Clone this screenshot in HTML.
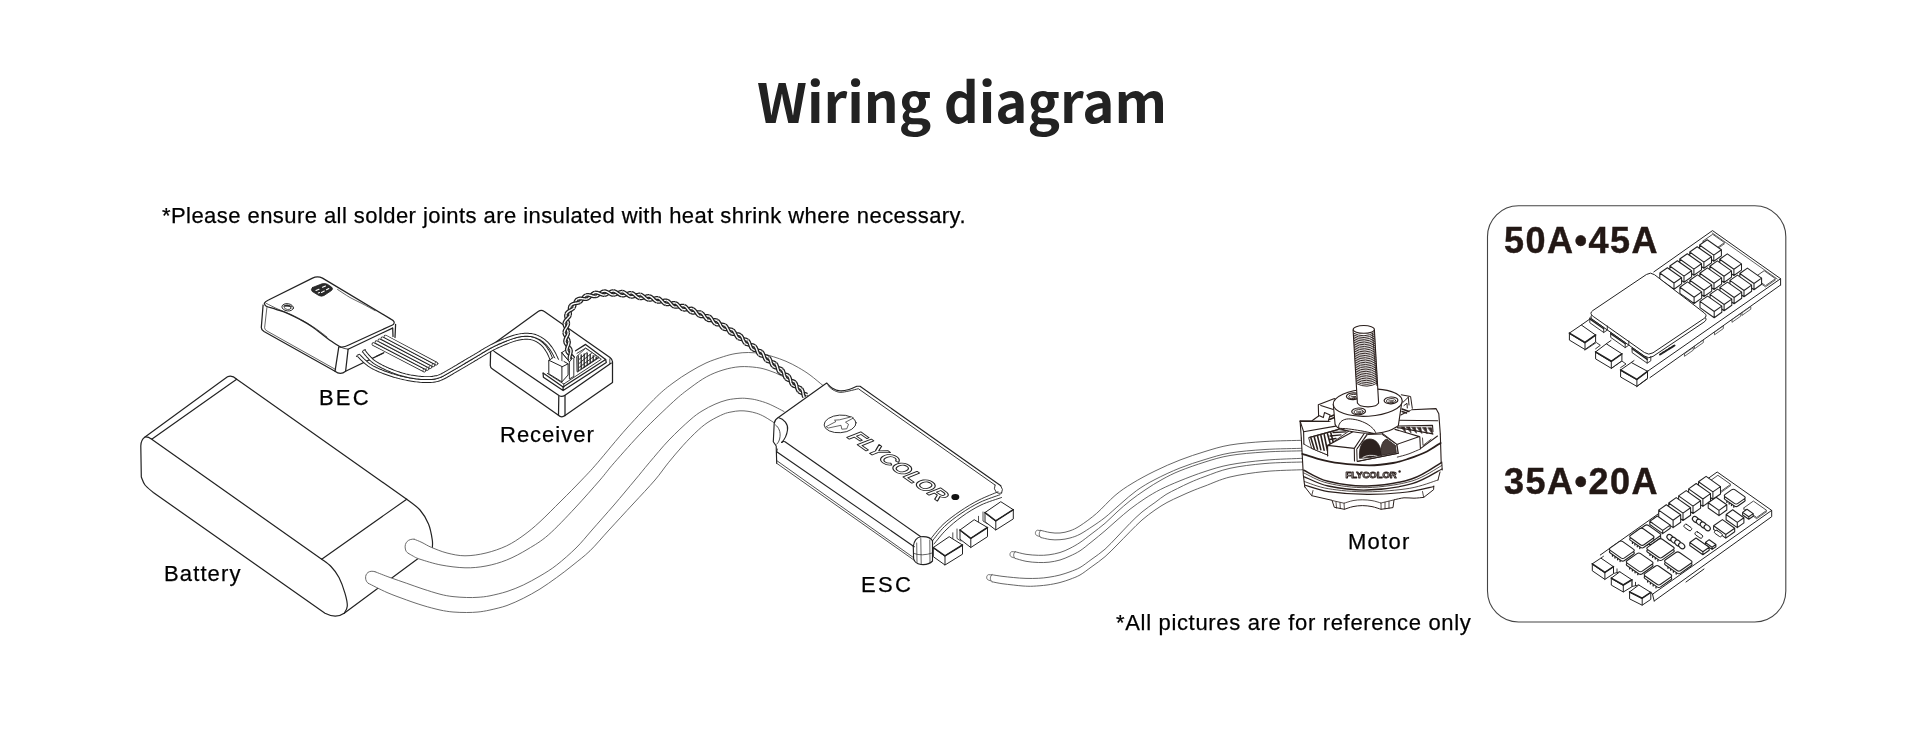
<!DOCTYPE html>
<html lang="en">
<head>
<meta charset="utf-8">
<title>Wiring diagram</title>
<style>
html,body{margin:0;padding:0;background:#fff;}
body{width:1920px;height:737px;position:relative;overflow:hidden;font-family:"Liberation Sans","Noto Sans CJK SC",sans-serif;color:#222;}
#art{position:absolute;left:0;top:0;width:1920px;height:737px;}
.t,h1,#art{will-change:transform;}
.t{position:absolute;white-space:nowrap;line-height:1;color:#000;-webkit-text-stroke:0.25px #000;}
h1{position:absolute;margin:0;left:2px;top:60px;width:1920px;text-align:center;font-family:"Noto Sans CJK SC","Liberation Sans",sans-serif;font-weight:700;font-size:54.5px;line-height:80px;color:#222;white-space:nowrap;}
.lbl{font-size:22px;}
.big{font-weight:700;font-size:36px;color:#231815;letter-spacing:1.45px;-webkit-text-stroke:0.45px #231815;}
</style>
</head>
<body>
<svg id="art" viewBox="0 0 1920 737" width="1920" height="737" fill="none" stroke="#222" stroke-width="1" stroke-linecap="round" stroke-linejoin="round">
<!--ART-->
<g id="p1_battery">
<path d="M145 437L227.5 376.7Q232 374.6 236.7 379.2L406.7 499.2L406.7 499.2C408.9 501 416.4 505.9 420 510C423.6 514.1 426.4 519 428.5 524C430.6 529 431.7 536 432.3 540C432.9 544 432.3 546.7 432.3 548L344.2 613.3Q336 619 325 613.3L153.3 492.5L153.3 492.5C151.9 491.2 147 487.6 145 485C143 482.4 141.9 478.3 141.3 477L140.8 446Q140.8 440 145 437Z" fill="#fff" stroke="#222" stroke-width="1.2"/>
<path d="M145 437Q148 436.6 151.7 439.2L236.7 379.2M151.7 439.2L321.7 559.2L406.7 499.2" stroke="#222" stroke-width="1.2"/>
<path d="M321.7 559.2C323.2 560.4 328.1 563.5 331 566.5C333.9 569.5 336.7 573 339 577.5C341.3 582 343.6 588.5 345 593.3C346.4 598 347.4 602.7 347.3 606C347.2 609.3 344.7 612.1 344.2 613.3" stroke="#222" stroke-width="1.2"/>
</g>
<g id="p2_wires">
<path d="M414.2 539.2C415.5 539.8 419.1 541.1 422 542.5C424.9 543.9 427.5 545.8 431.7 547.5C435.9 549.2 441.4 551.6 447 553C452.6 554.4 458.5 555.8 465 555.8C471.5 555.8 479.1 554.7 486 553C492.9 551.3 500.4 548.8 506.7 545.8C513 542.8 518.5 539 524 535C529.5 531 533.8 527.4 540 521.7C546.2 516 554 507.9 561 501C568 494.1 575.6 486.4 581.7 480C587.8 473.6 590 471.5 597.5 462.8C605 454.1 617.1 439 627 428C636.9 417 649 404.2 656.7 396.7C664.4 389.2 667.5 387.2 673 383C678.5 378.8 684.5 375 690 371.7C695.5 368.4 700.5 365.5 706 363C711.5 360.5 718.3 358.3 723.3 356.7C728.3 355.1 731.8 354.2 736 353.5C740.2 352.8 744.1 352.5 748.3 352.5C752.5 352.5 756.8 352.9 761 353.6C765.2 354.3 769.1 355.4 773.3 356.7C777.5 358 781.8 359.5 786 361.3C790.2 363.1 794.3 365.2 798.3 367.5C802.3 369.8 805.9 372 810 375C814.1 378 820.8 383.8 823 385.5L808 396C805.7 393.9 798.4 386.9 794 383.5C789.6 380.1 785.9 378 781.7 375.8C777.5 373.6 773.2 371.9 769 370.5C764.8 369.1 761.5 368.1 756.7 367.5C751.9 366.9 745.6 366.3 740 366.7C734.4 367.1 728.5 368.3 723 370C717.5 371.7 712.2 373.7 706.7 376.7C701.2 379.7 695.6 383.8 690 388C684.4 392.2 681.1 394.5 673.3 401.7C665.5 408.9 652.9 420.8 643 431C633.1 441.2 621.4 454.6 614.2 462.8C607 471 606.5 472.5 600 480C593.5 487.5 583.6 498.8 575 508C566.4 517.2 556.1 528.2 548.3 535C540.5 541.8 534.9 544.8 528 549C521.1 553.2 513.7 557.2 506.7 560C499.7 562.8 492.9 564.7 486 566C479.1 567.3 472.5 568 465 567.8C457.5 567.6 448.5 566.4 441 565C433.5 563.6 424.7 560.7 420 559.2C415.3 557.7 414.9 557 413 556C411.1 555 409.1 553.8 408.3 553.3Z" fill="#fff" stroke="none"/><path d="M414.2 539.2C415.5 539.8 419.1 541.1 422 542.5C424.9 543.9 427.5 545.8 431.7 547.5C435.9 549.2 441.4 551.6 447 553C452.6 554.4 458.5 555.8 465 555.8C471.5 555.8 479.1 554.7 486 553C492.9 551.3 500.4 548.8 506.7 545.8C513 542.8 518.5 539 524 535C529.5 531 533.8 527.4 540 521.7C546.2 516 554 507.9 561 501C568 494.1 575.6 486.4 581.7 480C587.8 473.6 590 471.5 597.5 462.8C605 454.1 617.1 439 627 428C636.9 417 649 404.2 656.7 396.7C664.4 389.2 667.5 387.2 673 383C678.5 378.8 684.5 375 690 371.7C695.5 368.4 700.5 365.5 706 363C711.5 360.5 718.3 358.3 723.3 356.7C728.3 355.1 731.8 354.2 736 353.5C740.2 352.8 744.1 352.5 748.3 352.5C752.5 352.5 756.8 352.9 761 353.6C765.2 354.3 769.1 355.4 773.3 356.7C777.5 358 781.8 359.5 786 361.3C790.2 363.1 794.3 365.2 798.3 367.5C802.3 369.8 805.9 372 810 375C814.1 378 820.8 383.8 823 385.5" stroke="#5a5a5a" stroke-width="0.9"/><path d="M408.3 553.3C409.1 553.8 411.1 555 413 556C414.9 557 415.3 557.7 420 559.2C424.7 560.7 433.5 563.6 441 565C448.5 566.4 457.5 567.6 465 567.8C472.5 568 479.1 567.3 486 566C492.9 564.7 499.7 562.8 506.7 560C513.7 557.2 521.1 553.2 528 549C534.9 544.8 540.5 541.8 548.3 535C556.1 528.2 566.4 517.2 575 508C583.6 498.8 593.5 487.5 600 480C606.5 472.5 607 471 614.2 462.8C621.4 454.6 633.1 441.2 643 431C652.9 420.8 665.5 408.9 673.3 401.7C681.1 394.5 684.4 392.2 690 388C695.6 383.8 701.2 379.7 706.7 376.7C712.2 373.7 717.5 371.7 723 370C728.5 368.3 734.4 367.1 740 366.7C745.6 366.3 751.9 366.9 756.7 367.5C761.5 368.1 764.8 369.1 769 370.5C773.2 371.9 777.5 373.6 781.7 375.8C785.9 378 789.6 380.1 794 383.5C798.4 386.9 805.7 393.9 808 396" stroke="#5a5a5a" stroke-width="0.9"/>
<path d="M414.2 539.2C408 538.5 404.5 543 405.2 548C405.6 551 406.5 552.3 408.3 553.3" fill="#fff" stroke="#5a5a5a" stroke-width="0.9"/>
<path d="M375 571.7C377.5 572.7 384.7 575.6 390 577.5C395.3 579.4 401.2 581.4 406.7 583.3C412.2 585.2 417.4 587.2 423 589C428.6 590.8 435 592.9 440 594.2C445 595.5 448.6 596.1 453 596.6C457.4 597.1 462.5 597.4 466.7 597.5C470.9 597.6 474.1 597.6 478 597.3C481.9 597 485.2 596.8 490 595.8C494.8 594.8 501.4 593.3 507 591.5C512.5 589.7 517.8 587.6 523.3 585C528.8 582.4 534.4 579.3 540 576C545.6 572.7 550.7 569.7 556.7 565C562.7 560.3 570.1 553.8 576 548C581.9 542.2 585.7 537.2 592 530C598.3 522.8 606.8 513.3 614 505C621.2 496.7 629.1 487 635 480C640.9 473 643.5 469.5 649.2 462.8C654.9 456.1 662.2 447.1 669 440C675.8 432.9 684.5 424.8 690 420C695.5 415.2 697.8 413.6 702 411C706.2 408.4 710.8 406 715 404.2C719.2 402.4 722.8 401 727 400C731.2 399 736.5 398.5 740 398.3C743.5 398.1 745.2 398.3 748 398.6C750.8 398.9 753.2 399.1 756.7 400C760.2 400.9 764.5 402.1 769 404C773.5 405.9 781.5 410.2 784 411.5L776 424C774.2 422.8 768.2 418.8 765 417C761.8 415.2 759.5 414.2 756.7 413.3C753.9 412.4 750.8 411.7 748 411.3C745.2 410.9 742.8 410.7 740 410.8C737.2 410.9 733.8 411.4 731 412C728.2 412.6 726.8 412.7 723.3 414.2C719.8 415.7 714.2 418.4 710 421C705.8 423.6 702.8 425.9 698.3 430C693.8 434.1 688 440 683 445.5C678 451 673 457.1 668.3 462.8C663.6 468.6 660.9 473.1 655 480C649.1 486.9 640.7 495.7 633 504C625.3 512.3 616.2 522.2 609 530C601.8 537.8 596 545 590 550.8C584 556.6 578.5 560.5 573 565C567.5 569.5 562.2 573.5 556.7 577.5C551.2 581.5 545.6 585.5 540 589C534.4 592.5 528.8 595.5 523.3 598.3C517.8 601 512.5 603.5 507 605.5C501.4 607.5 494.8 608.9 490 610C485.2 611.1 481.9 611.6 478 612C474.1 612.4 470.9 612.5 466.7 612.5C462.5 612.5 457.4 612.4 453 612C448.6 611.6 445 611.1 440 610C435 608.9 428.6 607.2 423 605.5C417.4 603.8 412.7 602.2 406.7 600C400.7 597.8 393.4 595.3 387 592.5C380.6 589.7 371.4 584.8 368.3 583.3Z" fill="#fff" stroke="none"/><path d="M375 571.7C377.5 572.7 384.7 575.6 390 577.5C395.3 579.4 401.2 581.4 406.7 583.3C412.2 585.2 417.4 587.2 423 589C428.6 590.8 435 592.9 440 594.2C445 595.5 448.6 596.1 453 596.6C457.4 597.1 462.5 597.4 466.7 597.5C470.9 597.6 474.1 597.6 478 597.3C481.9 597 485.2 596.8 490 595.8C494.8 594.8 501.4 593.3 507 591.5C512.5 589.7 517.8 587.6 523.3 585C528.8 582.4 534.4 579.3 540 576C545.6 572.7 550.7 569.7 556.7 565C562.7 560.3 570.1 553.8 576 548C581.9 542.2 585.7 537.2 592 530C598.3 522.8 606.8 513.3 614 505C621.2 496.7 629.1 487 635 480C640.9 473 643.5 469.5 649.2 462.8C654.9 456.1 662.2 447.1 669 440C675.8 432.9 684.5 424.8 690 420C695.5 415.2 697.8 413.6 702 411C706.2 408.4 710.8 406 715 404.2C719.2 402.4 722.8 401 727 400C731.2 399 736.5 398.5 740 398.3C743.5 398.1 745.2 398.3 748 398.6C750.8 398.9 753.2 399.1 756.7 400C760.2 400.9 764.5 402.1 769 404C773.5 405.9 781.5 410.2 784 411.5" stroke="#5a5a5a" stroke-width="0.9"/><path d="M368.3 583.3C371.4 584.8 380.6 589.7 387 592.5C393.4 595.3 400.7 597.8 406.7 600C412.7 602.2 417.4 603.8 423 605.5C428.6 607.2 435 608.9 440 610C445 611.1 448.6 611.6 453 612C457.4 612.4 462.5 612.5 466.7 612.5C470.9 612.5 474.1 612.4 478 612C481.9 611.6 485.2 611.1 490 610C494.8 608.9 501.4 607.5 507 605.5C512.5 603.5 517.8 601 523.3 598.3C528.8 595.5 534.4 592.5 540 589C545.6 585.5 551.2 581.5 556.7 577.5C562.2 573.5 567.5 569.5 573 565C578.5 560.5 584 556.6 590 550.8C596 545 601.8 537.8 609 530C616.2 522.2 625.3 512.3 633 504C640.7 495.7 649.1 486.9 655 480C660.9 473.1 663.6 468.6 668.3 462.8C673 457.1 678 451 683 445.5C688 440 693.8 434.1 698.3 430C702.8 425.9 705.8 423.6 710 421C714.2 418.4 719.8 415.7 723.3 414.2C726.8 412.7 728.2 412.6 731 412C733.8 411.4 737.2 410.9 740 410.8C742.8 410.7 745.2 410.9 748 411.3C750.8 411.7 753.9 412.4 756.7 413.3C759.5 414.2 761.8 415.2 765 417C768.2 418.8 774.2 422.8 776 424" stroke="#5a5a5a" stroke-width="0.9"/>
<path d="M375 571.7C369 569.8 365.3 573.5 365.6 578C365.8 580.5 366.6 582.2 368.3 583.3" fill="#fff" stroke="#5a5a5a" stroke-width="0.9"/>
</g>
<g id="p3a_bec">
<path d="M268.5 300L312.5 278.1Q317.5 275.8 322.5 278.1L391.3 319.4Q395.8 321.5 395.6 325L395 337.5L345.6 371.3Q340.5 375.5 335 371.3L264 331.5Q261 329.5 261.3 327.5L263.1 305Q263.6 301.8 268.5 300Z" fill="#fff" stroke="none"/>
<path d="M264.4 303.3Q265 301.5 268.5 300L312.5 278.1Q317.5 275.8 322.5 278.1L391.3 319.4Q395.6 321.6 393.5 324.3L392.5 325L348.8 345Q344 347.6 340 346.9" stroke="#222" stroke-width="1.25"/>
<path d="M264.4 303.3C264.7 303.8 264.4 305.3 266.3 306.3C268.2 307.3 272.5 308.1 276 309.3C279.5 310.5 283.5 311.6 287.5 313.3C291.5 315 295.8 317.2 300 319.5C304.2 321.8 307.9 323.7 312.5 326.9C317.1 330.1 322.9 335.2 327.5 338.5C332.1 341.8 337.9 345.5 340 346.9" stroke="#222" stroke-width="1.25"/>
<path d="M266.5 303.5C268.6 304.5 274.7 307.7 278.8 309.5C282.9 311.3 286.8 312.6 291 314.5C295.2 316.4 299.8 318.8 304 321.2C308.2 323.6 312.2 326.1 316 328.7C319.8 331.3 325.2 335.6 327 337" stroke="#222" stroke-width="0.7"/>
<path d="M337.5 289.4C339.6 290.8 345.9 295.1 350 297.5C354.1 299.9 357.8 301.3 362 303.5C366.2 305.7 372.8 309.4 375 310.6" stroke="#222" stroke-width="0.7"/>
<path d="M348.1 349.2L392.5 328.1" stroke="#222" stroke-width="1.25"/>
<path d="M263.1 305L261.3 327.5Q261.2 329.8 264 331.5L335 371.3" stroke="#222" stroke-width="1.25"/>
<path d="M266.9 307.5L264.6 327.8Q264.7 329.8 267 331L335.8 369.6" stroke="#222" stroke-width="0.7"/>
<path d="M338.8 346.9L335 371.3Q340.5 375.5 345.6 371.3L348.1 349.4" stroke="#222" stroke-width="1.25"/>
<path d="M340 346.9Q344 348.8 348.1 349.2" stroke="#222" stroke-width="0.8"/>
<path d="M345.6 371.3L383.8 352.8M395.6 324.4L395 337.5M392.7 328L393 336.5" stroke="#222" stroke-width="1.25"/>
<path d="M312.5 287.5L322 283.8Q325 283 327.5 284.3L331.5 287Q333.5 288.8 331.5 290.5L324 295.5Q321.5 296.8 318.8 295.5L312.3 291.5Q310.3 289.5 312.5 287.5Z" fill="#2a2a2a" stroke="#222" stroke-width="0.8"/>
<path d="M316 290.5L319 289.3M321.5 292.5L324.3 291M322.5 287.2L325.5 286M326.5 289.8L328.8 288.6M318.3 293L319.5 292.5" stroke="#fff" stroke-width="1.1"/>
<ellipse cx="287.7" cy="307.3" rx="5.8" ry="3.6" fill="#fff" stroke="#222" stroke-width="0.9" transform="rotate(8 287.7 307.3)"/>
<path d="M282.3 306.6Q287 302.2 293.2 307Q287.5 306.3 282.3 306.6Z" fill="#333" stroke="none"/>
<ellipse cx="287.7" cy="307.6" rx="3.4" ry="1.9" fill="none" stroke="#222" stroke-width="0.7" transform="rotate(8 287.7 307.3)"/>
<path d="M371.9 345L386.9 335.6L437.5 362.5L422.5 371.3Z" fill="#fff" stroke="none"/>
<path d="M373.4 344.1L424 370.4" stroke="#222" stroke-width="3.5" stroke-linecap="round"/>
<path d="M373.4 344.1L424 370.4" stroke="#fff" stroke-width="2.0" stroke-linecap="round"/>
<path d="M376.4 342.2L427 368.7" stroke="#222" stroke-width="3.5" stroke-linecap="round"/>
<path d="M376.4 342.2L427 368.7" stroke="#fff" stroke-width="2.0" stroke-linecap="round"/>
<path d="M379.4 340.3L430 366.9" stroke="#222" stroke-width="3.5" stroke-linecap="round"/>
<path d="M379.4 340.3L430 366.9" stroke="#fff" stroke-width="2.0" stroke-linecap="round"/>
<path d="M382.4 338.4L433 365.1" stroke="#222" stroke-width="3.5" stroke-linecap="round"/>
<path d="M382.4 338.4L433 365.1" stroke="#fff" stroke-width="2.0" stroke-linecap="round"/>
<path d="M385.4 336.5L436 363.4" stroke="#222" stroke-width="3.5" stroke-linecap="round"/>
<path d="M385.4 336.5L436 363.4" stroke="#fff" stroke-width="2.0" stroke-linecap="round"/>
<ellipse cx="424.4" cy="370.6" rx="1.5" ry="1.4" fill="#fff" stroke="#222" stroke-width="0.7"/>
<ellipse cx="427.4" cy="368.9" rx="1.5" ry="1.4" fill="#fff" stroke="#222" stroke-width="0.7"/>
<ellipse cx="430.4" cy="367.1" rx="1.5" ry="1.4" fill="#fff" stroke="#222" stroke-width="0.7"/>
<ellipse cx="433.4" cy="365.3" rx="1.5" ry="1.4" fill="#fff" stroke="#222" stroke-width="0.7"/>
<ellipse cx="436.4" cy="363.6" rx="1.5" ry="1.4" fill="#fff" stroke="#222" stroke-width="0.7"/>
<path d="M376.3 356.3L383.8 352.8" stroke="#222" stroke-width="0.9"/>
</g>
<g id="p3b_recv">
<path d="M496 340L538.5 311.3Q541.3 309.3 544 311.3L610 357.5Q612.6 359.5 612.5 362L612.5 382.5L565 415.6Q561.5 418.5 558.1 415L492.5 369Q490 367.3 490.3 365L490.6 350.5Q491 346 496 340Z" fill="#fff" stroke="none"/>
<path d="M490.6 351.3Q490.6 347 494 343.5L538.5 311.3Q541.3 309.3 544 311.3L610 357.5Q612.6 359.6 612.5 362L612.5 382.5L565 415.6" stroke="#222" stroke-width="1.25"/>
<path d="M490.6 351.3L490.3 365Q490 367.5 492.5 369L558.1 415Q561.5 418.5 565 415.6" stroke="#222" stroke-width="1.25"/>
<path d="M491 349.5Q493 350 495 351.9L559.3 395.8Q562 397.3 565 395.2L611.3 363.1" stroke="#222" stroke-width="1.25"/>
<path d="M558.8 396.3L558.5 415.2M565 395.6L565 415.6" stroke="#222" stroke-width="1.25"/>
<path d="M609.8 358.8L609.8 363.5" stroke="#222" stroke-width="0.8"/>
<path d="M543.1 373.1L563.1 386.9L605.6 359.4L585.6 344.4L575.6 350.8" stroke="#222" stroke-width="1.25"/>
<path d="M543.1 373.1L543.4 377.2L563.1 390.6L606.3 362.5L605.6 359.4M563.1 386.9L563.1 390.6" stroke="#222" stroke-width="1.25"/>
<path d="M547.3 373.4L563.8 384L601.3 359.3L585.8 348L577 353.3M563.8 384L563.8 387.2" stroke="#222" stroke-width="0.9"/>
<path d="M577.5 372L598.8 357.8" stroke="#222" stroke-width="0.8"/>
<path d="M576.9 356.3L585.6 348.3L599 357.3L577.3 371.5Z" fill="#fff" stroke="#222" stroke-width="0.8"/>
<path d="M578.2 355.8L578.2 370.5M581.2 354.9L581.2 368.5M584.2 354L584.2 366.5M587.2 353.1L587.2 364.5M590.2 354.4L590.2 362.5M593.2 355.7L593.2 360.5M596.2 357L596.2 358.5" stroke="#222" stroke-width="1.3"/>
<path d="M579 359.5L587 352.5M579 363.5L591.5 353.3M579 367.5L595.5 355.3M583 368L597.5 357.8" stroke="#222" stroke-width="0.9"/>
<path d="M561.9 352.5L565.2 350.4L573.8 356.5L573.8 376.3L569.4 379L569.4 361.9Z" fill="#fff" stroke="#222" stroke-width="0.9"/>
<path d="M561.9 352.5L569.4 361.9L573.8 356.5M561.9 352.5L561.9 366" stroke="#222" stroke-width="0.9"/>
</g>
<g id="p3bb_thin">
<path d="M358.4 355.2L359.5 356.3L360.5 357.4L361.6 358.5L362.7 359.6L363.9 360.7L365.1 361.8L366.2 362.8L367.4 363.8L368.7 364.8L370.1 365.7L371.5 366.6L372.9 367.4L374.3 368.1L375.7 368.8L377.1 369.4L378.5 370.1L379.9 370.7L381.3 371.2L382.7 371.8L384.1 372.4L385.6 372.9L387 373.4L388.4 373.9L389.9 374.4L391.3 374.9L392.8 375.3L394.2 375.8L395.7 376.2L397.2 376.6L398.6 377L400.1 377.4L401.6 377.7L403.1 378.1L404.6 378.4L406.1 378.7L407.6 379L409 379.3L410.5 379.5L412 379.8L413.5 380L415 380.2L416.6 380.4L418.1 380.6L419.6 380.7L421.1 380.9L422.6 381L424.1 381.1L425.7 381.1L427.2 381.1L428.7 381.1L430.3 381.1L431.9 380.9L433.4 380.7L434.9 380.5L436.5 380.2L438 379.8L439.5 379.3L441 378.7L442.4 378.1L443.8 377.4L445.2 376.7L446.5 376L447.8 375.2L449.1 374.5L450.4 373.7L451.7 373L453 372.2L454.3 371.4L455.6 370.7L456.9 369.9L458.2 369.2L459.5 368.4L460.8 367.6L462.1 366.9L463.4 366.1L464.7 365.3L466 364.6L467.2 363.8L468.5 363.1L469.8 362.3L471.1 361.5L472.4 360.8L473.7 360L475 359.2L476.3 358.5L477.6 357.7L478.9 356.9L480.2 356.2L481.4 355.4L482.7 354.6L484 353.8L485.3 353L486.6 352.3L487.8 351.5L489.1 350.8L490.4 350L491.7 349.3L493 348.6L494.3 348L495.7 347.3L497 346.7L498.4 346.1L499.7 345.5L501.1 344.9L502.4 344.3L503.8 343.7L505.2 343.1L506.6 342.6L508 342L509.3 341.5L510.7 341L512.1 340.5L513.5 340L514.9 339.6L516.3 339.2L517.7 338.8L519.1 338.5L520.6 338.3L522 338.1L523.4 337.9L524.9 337.8L526.3 337.8L527.7 337.8L529.2 337.9L530.5 338.1L531.9 338.4L533.2 338.7L534.5 339.2L535.8 339.8L537.1 340.4L538.3 341.2L539.5 341.9L540.6 342.8L541.7 343.6L542.7 344.6L543.7 345.6L544.6 346.7L545.4 347.8L546.3 349L547 350.2L547.8 351.4L548.5 352.6L549.1 353.9L549.7 355.2L550.3 356.6L550.8 357.9L551.3 359.2L551.8 360.6L552.2 362L552.6 363.4L553 364.8L553.3 366.2L553.6 367.6" stroke="#222" stroke-width="3.9" stroke-linecap="butt"/>
<path d="M358.4 355.2L359.5 356.3L360.5 357.4L361.6 358.5L362.7 359.6L363.9 360.7L365.1 361.8L366.2 362.8L367.4 363.8L368.7 364.8L370.1 365.7L371.5 366.6L372.9 367.4L374.3 368.1L375.7 368.8L377.1 369.4L378.5 370.1L379.9 370.7L381.3 371.2L382.7 371.8L384.1 372.4L385.6 372.9L387 373.4L388.4 373.9L389.9 374.4L391.3 374.9L392.8 375.3L394.2 375.8L395.7 376.2L397.2 376.6L398.6 377L400.1 377.4L401.6 377.7L403.1 378.1L404.6 378.4L406.1 378.7L407.6 379L409 379.3L410.5 379.5L412 379.8L413.5 380L415 380.2L416.6 380.4L418.1 380.6L419.6 380.7L421.1 380.9L422.6 381L424.1 381.1L425.7 381.1L427.2 381.1L428.7 381.1L430.3 381.1L431.9 380.9L433.4 380.7L434.9 380.5L436.5 380.2L438 379.8L439.5 379.3L441 378.7L442.4 378.1L443.8 377.4L445.2 376.7L446.5 376L447.8 375.2L449.1 374.5L450.4 373.7L451.7 373L453 372.2L454.3 371.4L455.6 370.7L456.9 369.9L458.2 369.2L459.5 368.4L460.8 367.6L462.1 366.9L463.4 366.1L464.7 365.3L466 364.6L467.2 363.8L468.5 363.1L469.8 362.3L471.1 361.5L472.4 360.8L473.7 360L475 359.2L476.3 358.5L477.6 357.7L478.9 356.9L480.2 356.2L481.4 355.4L482.7 354.6L484 353.8L485.3 353L486.6 352.3L487.8 351.5L489.1 350.8L490.4 350L491.7 349.3L493 348.6L494.3 348L495.7 347.3L497 346.7L498.4 346.1L499.7 345.5L501.1 344.9L502.4 344.3L503.8 343.7L505.2 343.1L506.6 342.6L508 342L509.3 341.5L510.7 341L512.1 340.5L513.5 340L514.9 339.6L516.3 339.2L517.7 338.8L519.1 338.5L520.6 338.3L522 338.1L523.4 337.9L524.9 337.8L526.3 337.8L527.7 337.8L529.2 337.9L530.5 338.1L531.9 338.4L533.2 338.7L534.5 339.2L535.8 339.8L537.1 340.4L538.3 341.2L539.5 341.9L540.6 342.8L541.7 343.6L542.7 344.6L543.7 345.6L544.6 346.7L545.4 347.8L546.3 349L547 350.2L547.8 351.4L548.5 352.6L549.1 353.9L549.7 355.2L550.3 356.6L550.8 357.9L551.3 359.2L551.8 360.6L552.2 362L552.6 363.4L553 364.8L553.3 366.2L553.6 367.6" stroke="#fff" stroke-width="2.0" stroke-linecap="butt"/>
<path d="M363.6 350.8L364.5 351.9L365.4 353.1L366.3 354.2L367.3 355.3L368.2 356.4L369.2 357.4L370.2 358.5L371.2 359.5L372.2 360.4L373.3 361.3L374.4 362.1L375.5 362.8L376.7 363.6L378 364.3L379.3 365.1L380.5 365.7L381.8 366.4L383.2 367.1L384.5 367.7L385.8 368.4L387.2 369L388.5 369.6L389.9 370.1L391.2 370.7L392.6 371.2L394 371.8L395.4 372.3L396.8 372.8L398.2 373.2L399.6 373.7L401 374.1L402.4 374.5L403.8 374.9L405.3 375.3L406.7 375.6L408.2 376L409.6 376.3L411.1 376.6L412.5 376.8L414 377L415.5 377.2L416.9 377.4L418.4 377.6L419.9 377.7L421.3 377.9L422.8 378L424.3 378.1L425.7 378.1L427.2 378.1L428.7 378.1L430.1 378.1L431.5 377.9L433 377.8L434.4 377.5L435.8 377.2L437.2 376.9L438.5 376.5L439.9 376L441.2 375.4L442.5 374.8L443.7 374.1L445 373.4L446.3 372.6L447.6 371.9L448.9 371.1L450.2 370.4L451.5 369.6L452.8 368.9L454.1 368.1L455.4 367.3L456.7 366.6L458 365.8L459.3 365L460.6 364.3L461.8 363.5L463.1 362.8L464.4 362L465.7 361.2L467 360.5L468.3 359.7L469.6 358.9L470.9 358.2L472.2 357.4L473.5 356.6L474.8 355.9L476 355.1L477.3 354.4L478.6 353.6L479.9 352.8L481.2 352L482.4 351.2L483.7 350.5L485 349.7L486.3 348.9L487.6 348.2L489 347.4L490.3 346.7L491.6 346L493 345.3L494.4 344.6L495.7 344L497.1 343.3L498.5 342.7L499.9 342.1L501.3 341.5L502.7 340.9L504.1 340.3L505.5 339.8L506.9 339.2L508.3 338.7L509.7 338.2L511.1 337.7L512.6 337.2L514.1 336.7L515.5 336.3L517 335.9L518.6 335.6L520.1 335.3L521.6 335.1L523.2 334.9L524.7 334.8L526.3 334.8L527.9 334.8L529.4 334.9L531 335L532.6 335.3L534.2 335.7L535.7 336.2L537.2 336.8L538.6 337.5L540 338.2L541.4 339L542.7 339.9L544 340.8L545.3 341.9L546.5 343L547.6 344.1L548.6 345.3L549.6 346.6L550.6 347.8L551.5 349.1L552.3 350.5L553.1 351.8L553.9 353.2L554.6 354.5L555.3 356L556 357.4L556.6 358.8L557.2 360.3L557.8 361.7L558.3 363.2L558.8 364.7L559.2 366.2" stroke="#222" stroke-width="3.9" stroke-linecap="butt"/>
<path d="M363.6 350.8L364.5 351.9L365.4 353.1L366.3 354.2L367.3 355.3L368.2 356.4L369.2 357.4L370.2 358.5L371.2 359.5L372.2 360.4L373.3 361.3L374.4 362.1L375.5 362.8L376.7 363.6L378 364.3L379.3 365.1L380.5 365.7L381.8 366.4L383.2 367.1L384.5 367.7L385.8 368.4L387.2 369L388.5 369.6L389.9 370.1L391.2 370.7L392.6 371.2L394 371.8L395.4 372.3L396.8 372.8L398.2 373.2L399.6 373.7L401 374.1L402.4 374.5L403.8 374.9L405.3 375.3L406.7 375.6L408.2 376L409.6 376.3L411.1 376.6L412.5 376.8L414 377L415.5 377.2L416.9 377.4L418.4 377.6L419.9 377.7L421.3 377.9L422.8 378L424.3 378.1L425.7 378.1L427.2 378.1L428.7 378.1L430.1 378.1L431.5 377.9L433 377.8L434.4 377.5L435.8 377.2L437.2 376.9L438.5 376.5L439.9 376L441.2 375.4L442.5 374.8L443.7 374.1L445 373.4L446.3 372.6L447.6 371.9L448.9 371.1L450.2 370.4L451.5 369.6L452.8 368.9L454.1 368.1L455.4 367.3L456.7 366.6L458 365.8L459.3 365L460.6 364.3L461.8 363.5L463.1 362.8L464.4 362L465.7 361.2L467 360.5L468.3 359.7L469.6 358.9L470.9 358.2L472.2 357.4L473.5 356.6L474.8 355.9L476 355.1L477.3 354.4L478.6 353.6L479.9 352.8L481.2 352L482.4 351.2L483.7 350.5L485 349.7L486.3 348.9L487.6 348.2L489 347.4L490.3 346.7L491.6 346L493 345.3L494.4 344.6L495.7 344L497.1 343.3L498.5 342.7L499.9 342.1L501.3 341.5L502.7 340.9L504.1 340.3L505.5 339.8L506.9 339.2L508.3 338.7L509.7 338.2L511.1 337.7L512.6 337.2L514.1 336.7L515.5 336.3L517 335.9L518.6 335.6L520.1 335.3L521.6 335.1L523.2 334.9L524.7 334.8L526.3 334.8L527.9 334.8L529.4 334.9L531 335L532.6 335.3L534.2 335.7L535.7 336.2L537.2 336.8L538.6 337.5L540 338.2L541.4 339L542.7 339.9L544 340.8L545.3 341.9L546.5 343L547.6 344.1L548.6 345.3L549.6 346.6L550.6 347.8L551.5 349.1L552.3 350.5L553.1 351.8L553.9 353.2L554.6 354.5L555.3 356L556 357.4L556.6 358.8L557.2 360.3L557.8 361.7L558.3 363.2L558.8 364.7L559.2 366.2" stroke="#fff" stroke-width="2.0" stroke-linecap="butt"/>
<path d="M356.3 356.6Q357 354 359.3 354.3M362.3 351.8Q363 349.2 365.4 349.5" stroke="#222" stroke-width="0.9"/>
<path d="M548.8 360.6L553.1 357.5L568.1 363.8L568.1 375L561.9 381.9L548.8 373.8Z" fill="#fff" stroke="none"/>
<path d="M548.8 360.6L548.8 373.8L561.9 381.9L561.9 366.9ZM561.9 366.9L568.1 363.8L568.1 375L561.9 381.9M548.8 360.6L553.1 357.5M568.1 363.8L564 361.5" stroke="#222" stroke-width="1"/>
</g>
<g id="p3c_twist">
<path d="M573.3 358.4L573 357.7L572.6 357.1L572.1 356.5L571.5 355.9L570.9 355.3L570.2 354.7L569.5 354.1L568.8 353.5L568.2 352.9L567.7 352.3L567.3 351.6L567.1 350.9" stroke="#222" stroke-width="3.9" stroke-linecap="butt"/><path d="M573.3 358.4L573 357.7L572.6 357.1L572.1 356.5L571.5 355.9L570.9 355.3L570.2 354.7L569.5 354.1L568.8 353.5L568.2 352.9L567.7 352.3L567.3 351.6L567.1 350.9" stroke="#fff" stroke-width="1.4" stroke-linecap="butt"/><path d="M569.7 359.6L569.5 358.8L569.5 358.1L569.6 357.2L569.7 356.4L569.9 355.6L570.2 354.7L570.4 353.8L570.6 353L570.8 352.2L570.9 351.4L570.9 350.6L570.7 349.9" stroke="#222" stroke-width="3.9" stroke-linecap="butt"/><path d="M569.7 359.6L569.5 358.8L569.5 358.1L569.6 357.2L569.7 356.4L569.9 355.6L570.2 354.7L570.4 353.8L570.6 353L570.8 352.2L570.9 351.4L570.9 350.6L570.7 349.9" stroke="#fff" stroke-width="1.4" stroke-linecap="butt"/><path d="M570.7 349.9L570.5 349.2L570.1 348.5L569.7 347.9L569.1 347.3L568.5 346.6L567.9 346L567.2 345.4L566.6 344.7L566.1 344L565.7 343.3L565.3 342.6L565.2 341.9" stroke="#222" stroke-width="3.9" stroke-linecap="butt"/><path d="M570.7 349.9L570.5 349.2L570.1 348.5L569.7 347.9L569.1 347.3L568.5 346.6L567.9 346L567.2 345.4L566.6 344.7L566.1 344L565.7 343.3L565.3 342.6L565.2 341.9" stroke="#fff" stroke-width="1.4" stroke-linecap="butt"/><path d="M567.1 350.9L566.9 350.1L566.9 349.3L567 348.5L567.3 347.7L567.5 346.8L567.9 346L568.2 345.2L568.5 344.4L568.7 343.6L568.9 342.8L569 342L568.9 341.3" stroke="#222" stroke-width="3.9" stroke-linecap="butt"/><path d="M567.1 350.9L566.9 350.1L566.9 349.3L567 348.5L567.3 347.7L567.5 346.8L567.9 346L568.2 345.2L568.5 344.4L568.7 343.6L568.9 342.8L569 342L568.9 341.3" stroke="#fff" stroke-width="1.4" stroke-linecap="butt"/><path d="M568.9 341.3L568.7 340.6L568.5 339.9L568.1 339.2L567.6 338.5L567.1 337.8L566.5 337.1L566 336.4L565.5 335.7L565 335L564.7 334.2L564.4 333.5L564.3 332.7" stroke="#222" stroke-width="3.9" stroke-linecap="butt"/><path d="M568.9 341.3L568.7 340.6L568.5 339.9L568.1 339.2L567.6 338.5L567.1 337.8L566.5 337.1L566 336.4L565.5 335.7L565 335L564.7 334.2L564.4 333.5L564.3 332.7" stroke="#fff" stroke-width="1.4" stroke-linecap="butt"/><path d="M565.2 341.9L565.1 341.1L565.2 340.3L565.4 339.5L565.7 338.7L566.1 337.9L566.5 337.1L566.9 336.3L567.3 335.6L567.7 334.8L568 334L568.1 333.3L568.1 332.5" stroke="#222" stroke-width="3.9" stroke-linecap="butt"/><path d="M565.2 341.9L565.1 341.1L565.2 340.3L565.4 339.5L565.7 338.7L566.1 337.9L566.5 337.1L566.9 336.3L567.3 335.6L567.7 334.8L568 334L568.1 333.3L568.1 332.5" stroke="#fff" stroke-width="1.4" stroke-linecap="butt"/><path d="M568.1 332.5L568 331.8L567.8 331.1L567.5 330.3L567.1 329.6L566.6 328.9L566.1 328.1L565.7 327.4L565.2 326.6L564.8 325.8L564.6 325.1L564.4 324.3L564.4 323.5" stroke="#222" stroke-width="3.9" stroke-linecap="butt"/><path d="M568.1 332.5L568 331.8L567.8 331.1L567.5 330.3L567.1 329.6L566.6 328.9L566.1 328.1L565.7 327.4L565.2 326.6L564.8 325.8L564.6 325.1L564.4 324.3L564.4 323.5" stroke="#fff" stroke-width="1.4" stroke-linecap="butt"/><path d="M564.3 332.7L564.4 331.9L564.5 331.2L564.8 330.4L565.2 329.6L565.7 328.9L566.1 328.1L566.6 327.4L567.1 326.6L567.5 325.9L567.8 325.2L568.1 324.5L568.2 323.8" stroke="#222" stroke-width="3.9" stroke-linecap="butt"/><path d="M564.3 332.7L564.4 331.9L564.5 331.2L564.8 330.4L565.2 329.6L565.7 328.9L566.1 328.1L566.6 327.4L567.1 326.6L567.5 325.9L567.8 325.2L568.1 324.5L568.2 323.8" stroke="#fff" stroke-width="1.4" stroke-linecap="butt"/><path d="M568.2 323.8L568.2 323L568 322.3L567.8 321.6L567.6 320.8L567.2 320L566.9 319.2L566.6 318.3L566.3 317.5L566.1 316.6L566 315.8L566.1 315L566.2 314.3" stroke="#222" stroke-width="3.9" stroke-linecap="butt"/><path d="M568.2 323.8L568.2 323L568 322.3L567.8 321.6L567.6 320.8L567.2 320L566.9 319.2L566.6 318.3L566.3 317.5L566.1 316.6L566 315.8L566.1 315L566.2 314.3" stroke="#fff" stroke-width="1.4" stroke-linecap="butt"/><path d="M564.4 323.5L564.5 322.7L564.8 321.9L565.2 321.2L565.7 320.5L566.3 319.8L566.9 319.2L567.5 318.5L568.1 317.9L568.7 317.3L569.2 316.7L569.6 316.1L569.9 315.4" stroke="#222" stroke-width="3.9" stroke-linecap="butt"/><path d="M564.4 323.5L564.5 322.7L564.8 321.9L565.2 321.2L565.7 320.5L566.3 319.8L566.9 319.2L567.5 318.5L568.1 317.9L568.7 317.3L569.2 316.7L569.6 316.1L569.9 315.4" stroke="#fff" stroke-width="1.4" stroke-linecap="butt"/><path d="M569.9 315.4L570 314.7L570.1 313.9L570 313.2L569.9 312.4L569.8 311.5L569.7 310.7L569.7 309.8L569.7 308.9L569.7 308L569.9 307.2L570.1 306.4L570.5 305.8" stroke="#222" stroke-width="3.9" stroke-linecap="butt"/><path d="M569.9 315.4L570 314.7L570.1 313.9L570 313.2L569.9 312.4L569.8 311.5L569.7 310.7L569.7 309.8L569.7 308.9L569.7 308L569.9 307.2L570.1 306.4L570.5 305.8" stroke="#fff" stroke-width="1.4" stroke-linecap="butt"/><path d="M566.2 314.3L566.5 313.5L566.9 312.8L567.5 312.2L568.2 311.6L568.9 311.1L569.7 310.7L570.5 310.2L571.3 309.9L572 309.4L572.6 309L573.2 308.5L573.7 307.9" stroke="#222" stroke-width="3.9" stroke-linecap="butt"/><path d="M566.2 314.3L566.5 313.5L566.9 312.8L567.5 312.2L568.2 311.6L568.9 311.1L569.7 310.7L570.5 310.2L571.3 309.9L572 309.4L572.6 309L573.2 308.5L573.7 307.9" stroke="#fff" stroke-width="1.4" stroke-linecap="butt"/><path d="M573.7 307.9L574 307.3L574.3 306.6L574.5 305.9L574.6 305.1L574.8 304.2L574.9 303.4L575.2 302.5L575.5 301.6L575.9 300.8L576.4 300.1L577 299.5L577.7 299.1" stroke="#222" stroke-width="3.9" stroke-linecap="butt"/><path d="M573.7 307.9L574 307.3L574.3 306.6L574.5 305.9L574.6 305.1L574.8 304.2L574.9 303.4L575.2 302.5L575.5 301.6L575.9 300.8L576.4 300.1L577 299.5L577.7 299.1" stroke="#fff" stroke-width="1.4" stroke-linecap="butt"/><path d="M570.5 305.8L571 305.1L571.7 304.6L572.4 304.2L573.2 303.8L574.1 303.6L574.9 303.4L575.8 303.2L576.7 303.1L577.4 303L578.2 302.9L578.9 302.7L579.5 302.4" stroke="#222" stroke-width="3.9" stroke-linecap="butt"/><path d="M570.5 305.8L571 305.1L571.7 304.6L572.4 304.2L573.2 303.8L574.1 303.6L574.9 303.4L575.8 303.2L576.7 303.1L577.4 303L578.2 302.9L578.9 302.7L579.5 302.4" stroke="#fff" stroke-width="1.4" stroke-linecap="butt"/><path d="M579.5 302.4L580.1 302L580.7 301.5L581.2 300.9L581.7 300.2L582.1 299.5L582.6 298.7L583.1 298L583.6 297.2L584.1 296.6L584.7 296L585.4 295.5L586.1 295.2" stroke="#222" stroke-width="3.9" stroke-linecap="butt"/><path d="M579.5 302.4L580.1 302L580.7 301.5L581.2 300.9L581.7 300.2L582.1 299.5L582.6 298.7L583.1 298L583.6 297.2L584.1 296.6L584.7 296L585.4 295.5L586.1 295.2" stroke="#fff" stroke-width="1.4" stroke-linecap="butt"/><path d="M577.7 299.1L578.4 298.8L579.2 298.6L580 298.5L580.8 298.5L581.7 298.6L582.6 298.7L583.5 298.9L584.4 299L585.2 299.1L586 299.1L586.7 299L587.4 298.7" stroke="#222" stroke-width="3.9" stroke-linecap="butt"/><path d="M577.7 299.1L578.4 298.8L579.2 298.6L580 298.5L580.8 298.5L581.7 298.6L582.6 298.7L583.5 298.9L584.4 299L585.2 299.1L586 299.1L586.7 299L587.4 298.7" stroke="#fff" stroke-width="1.4" stroke-linecap="butt"/><path d="M587.4 298.7L588.1 298.4L588.7 298L589.3 297.5L589.9 296.9L590.4 296.2L591 295.5L591.6 294.9L592.2 294.2L592.9 293.7L593.5 293.2L594.2 292.8L595 292.6" stroke="#222" stroke-width="3.9" stroke-linecap="butt"/><path d="M587.4 298.7L588.1 298.4L588.7 298L589.3 297.5L589.9 296.9L590.4 296.2L591 295.5L591.6 294.9L592.2 294.2L592.9 293.7L593.5 293.2L594.2 292.8L595 292.6" stroke="#fff" stroke-width="1.4" stroke-linecap="butt"/><path d="M586.1 295.2L586.8 295L587.6 294.9L588.4 294.9L589.3 295.1L590.1 295.3L591 295.5L591.9 295.8L592.7 296.1L593.5 296.3L594.3 296.4L595 296.4L595.8 296.3" stroke="#222" stroke-width="3.9" stroke-linecap="butt"/><path d="M586.1 295.2L586.8 295L587.6 294.9L588.4 294.9L589.3 295.1L590.1 295.3L591 295.5L591.9 295.8L592.7 296.1L593.5 296.3L594.3 296.4L595 296.4L595.8 296.3" stroke="#fff" stroke-width="1.4" stroke-linecap="butt"/><path d="M595.8 296.3L596.5 296.1L597.2 295.8L597.8 295.4L598.5 294.8L599.1 294.3L599.8 293.7L600.5 293.1L601.2 292.5L601.9 292L602.6 291.6L603.3 291.4L604.1 291.2" stroke="#222" stroke-width="3.9" stroke-linecap="butt"/><path d="M595.8 296.3L596.5 296.1L597.2 295.8L597.8 295.4L598.5 294.8L599.1 294.3L599.8 293.7L600.5 293.1L601.2 292.5L601.9 292L602.6 291.6L603.3 291.4L604.1 291.2" stroke="#fff" stroke-width="1.4" stroke-linecap="butt"/><path d="M595 292.6L595.8 292.5L596.5 292.6L597.3 292.7L598.2 293L599 293.3L599.8 293.7L600.6 294L601.4 294.4L602.2 294.7L603 294.9L603.7 295L604.4 295" stroke="#222" stroke-width="3.9" stroke-linecap="butt"/><path d="M595 292.6L595.8 292.5L596.5 292.6L597.3 292.7L598.2 293L599 293.3L599.8 293.7L600.6 294L601.4 294.4L602.2 294.7L603 294.9L603.7 295L604.4 295" stroke="#fff" stroke-width="1.4" stroke-linecap="butt"/><path d="M604.4 295L605.1 294.9L605.9 294.7L606.6 294.3L607.3 293.9L608 293.4L608.8 292.9L609.5 292.4L610.3 292L611 291.6L611.8 291.3L612.6 291.1L613.3 291.1" stroke="#222" stroke-width="3.9" stroke-linecap="butt"/><path d="M604.4 295L605.1 294.9L605.9 294.7L606.6 294.3L607.3 293.9L608 293.4L608.8 292.9L609.5 292.4L610.3 292L611 291.6L611.8 291.3L612.6 291.1L613.3 291.1" stroke="#fff" stroke-width="1.4" stroke-linecap="butt"/><path d="M604.1 291.2L604.9 291.2L605.7 291.4L606.5 291.6L607.2 292L608 292.4L608.8 292.9L609.5 293.4L610.3 293.9L611 294.3L611.7 294.6L612.4 294.8L613.2 294.9" stroke="#222" stroke-width="3.9" stroke-linecap="butt"/><path d="M604.1 291.2L604.9 291.2L605.7 291.4L606.5 291.6L607.2 292L608 292.4L608.8 292.9L609.5 293.4L610.3 293.9L611 294.3L611.7 294.6L612.4 294.8L613.2 294.9" stroke="#fff" stroke-width="1.4" stroke-linecap="butt"/><path d="M613.2 294.9L613.9 294.9L614.7 294.7L615.4 294.5L616.2 294.1L617 293.7L617.8 293.3L618.5 292.8L619.3 292.4L620.1 292.1L620.9 291.9L621.7 291.8L622.4 291.8" stroke="#222" stroke-width="3.9" stroke-linecap="butt"/><path d="M613.2 294.9L613.9 294.9L614.7 294.7L615.4 294.5L616.2 294.1L617 293.7L617.8 293.3L618.5 292.8L619.3 292.4L620.1 292.1L620.9 291.9L621.7 291.8L622.4 291.8" stroke="#fff" stroke-width="1.4" stroke-linecap="butt"/><path d="M613.3 291.1L614.1 291.2L614.8 291.4L615.6 291.8L616.3 292.2L617 292.7L617.8 293.3L618.5 293.8L619.2 294.3L619.9 294.8L620.6 295.2L621.3 295.4L622 295.6" stroke="#222" stroke-width="3.9" stroke-linecap="butt"/><path d="M613.3 291.1L614.1 291.2L614.8 291.4L615.6 291.8L616.3 292.2L617 292.7L617.8 293.3L618.5 293.8L619.2 294.3L619.9 294.8L620.6 295.2L621.3 295.4L622 295.6" stroke="#fff" stroke-width="1.4" stroke-linecap="butt"/><path d="M622 295.6L622.8 295.6L623.5 295.5L624.3 295.3L625.1 295L625.9 294.6L626.7 294.2L627.5 293.8L628.3 293.4L629.1 293.2L629.9 293L630.7 292.9L631.5 292.9" stroke="#222" stroke-width="3.9" stroke-linecap="butt"/><path d="M622 295.6L622.8 295.6L623.5 295.5L624.3 295.3L625.1 295L625.9 294.6L626.7 294.2L627.5 293.8L628.3 293.4L629.1 293.2L629.9 293L630.7 292.9L631.5 292.9" stroke="#fff" stroke-width="1.4" stroke-linecap="butt"/><path d="M622.4 291.8L623.2 291.9L623.9 292.2L624.6 292.6L625.3 293.1L626 293.6L626.7 294.2L627.4 294.8L628.1 295.3L628.7 295.8L629.4 296.2L630.1 296.5L630.9 296.7" stroke="#222" stroke-width="3.9" stroke-linecap="butt"/><path d="M622.4 291.8L623.2 291.9L623.9 292.2L624.6 292.6L625.3 293.1L626 293.6L626.7 294.2L627.4 294.8L628.1 295.3L628.7 295.8L629.4 296.2L630.1 296.5L630.9 296.7" stroke="#fff" stroke-width="1.4" stroke-linecap="butt"/><path d="M630.9 296.7L631.6 296.8L632.4 296.7L633.2 296.5L634 296.3L634.8 295.9L635.6 295.6L636.4 295.2L637.2 294.9L638.1 294.7L638.8 294.5L639.6 294.5L640.4 294.5" stroke="#222" stroke-width="3.9" stroke-linecap="butt"/><path d="M630.9 296.7L631.6 296.8L632.4 296.7L633.2 296.5L634 296.3L634.8 295.9L635.6 295.6L636.4 295.2L637.2 294.9L638.1 294.7L638.8 294.5L639.6 294.5L640.4 294.5" stroke="#fff" stroke-width="1.4" stroke-linecap="butt"/><path d="M631.5 292.9L632.2 293.1L632.9 293.4L633.6 293.9L634.3 294.4L634.9 295L635.6 295.6L636.2 296.2L636.9 296.8L637.6 297.3L638.3 297.7L639 298.1L639.7 298.3" stroke="#222" stroke-width="3.9" stroke-linecap="butt"/><path d="M631.5 292.9L632.2 293.1L632.9 293.4L633.6 293.9L634.3 294.4L634.9 295L635.6 295.6L636.2 296.2L636.9 296.8L637.6 297.3L638.3 297.7L639 298.1L639.7 298.3" stroke="#fff" stroke-width="1.4" stroke-linecap="butt"/><path d="M639.7 298.3L640.4 298.3L641.2 298.3L642 298.1L642.8 297.9L643.6 297.5L644.5 297.2L645.3 296.8L646.1 296.5L646.9 296.2L647.7 296.1L648.5 296L649.2 296.1" stroke="#222" stroke-width="3.9" stroke-linecap="butt"/><path d="M639.7 298.3L640.4 298.3L641.2 298.3L642 298.1L642.8 297.9L643.6 297.5L644.5 297.2L645.3 296.8L646.1 296.5L646.9 296.2L647.7 296.1L648.5 296L649.2 296.1" stroke="#fff" stroke-width="1.4" stroke-linecap="butt"/><path d="M640.4 294.5L641.1 294.7L641.8 295L642.5 295.5L643.1 296L643.8 296.6L644.5 297.2L645.1 297.8L645.8 298.4L646.4 298.9L647.1 299.3L647.8 299.6L648.5 299.8" stroke="#222" stroke-width="3.9" stroke-linecap="butt"/><path d="M640.4 294.5L641.1 294.7L641.8 295L642.5 295.5L643.1 296L643.8 296.6L644.5 297.2L645.1 297.8L645.8 298.4L646.4 298.9L647.1 299.3L647.8 299.6L648.5 299.8" stroke="#fff" stroke-width="1.4" stroke-linecap="butt"/><path d="M648.5 299.8L649.3 299.9L650 299.8L650.8 299.7L651.6 299.5L652.5 299.2L653.3 298.8L654.1 298.5L655 298.3L655.8 298.1L656.6 297.9L657.4 298L658.2 298.1" stroke="#222" stroke-width="3.9" stroke-linecap="butt"/><path d="M648.5 299.8L649.3 299.9L650 299.8L650.8 299.7L651.6 299.5L652.5 299.2L653.3 298.8L654.1 298.5L655 298.3L655.8 298.1L656.6 297.9L657.4 298L658.2 298.1" stroke="#fff" stroke-width="1.4" stroke-linecap="butt"/><path d="M649.2 296.1L650 296.3L650.7 296.6L651.4 297.1L652 297.6L652.7 298.2L653.3 298.8L653.9 299.5L654.5 300.1L655.2 300.7L655.8 301.1L656.5 301.5L657.2 301.8" stroke="#222" stroke-width="3.9" stroke-linecap="butt"/><path d="M649.2 296.1L650 296.3L650.7 296.6L651.4 297.1L652 297.6L652.7 298.2L653.3 298.8L653.9 299.5L654.5 300.1L655.2 300.7L655.8 301.1L656.5 301.5L657.2 301.8" stroke="#fff" stroke-width="1.4" stroke-linecap="butt"/><path d="M657.2 301.8L657.9 301.9L658.7 301.9L659.5 301.8L660.3 301.6L661.1 301.4L662 301.1L662.9 300.9L663.7 300.6L664.5 300.5L665.3 300.4L666.1 300.4L666.8 300.6" stroke="#222" stroke-width="3.9" stroke-linecap="butt"/><path d="M657.2 301.8L657.9 301.9L658.7 301.9L659.5 301.8L660.3 301.6L661.1 301.4L662 301.1L662.9 300.9L663.7 300.6L664.5 300.5L665.3 300.4L666.1 300.4L666.8 300.6" stroke="#fff" stroke-width="1.4" stroke-linecap="butt"/><path d="M658.2 298.1L658.9 298.3L659.6 298.7L660.2 299.2L660.8 299.8L661.4 300.5L662 301.1L662.6 301.8L663.2 302.5L663.8 303.1L664.4 303.6L665.1 303.9L665.8 304.2" stroke="#222" stroke-width="3.9" stroke-linecap="butt"/><path d="M658.2 298.1L658.9 298.3L659.6 298.7L660.2 299.2L660.8 299.8L661.4 300.5L662 301.1L662.6 301.8L663.2 302.5L663.8 303.1L664.4 303.6L665.1 303.9L665.8 304.2" stroke="#fff" stroke-width="1.4" stroke-linecap="butt"/><path d="M665.8 304.2L666.5 304.4L667.3 304.4L668.1 304.3L668.9 304.1L669.8 303.9L670.6 303.6L671.5 303.4L672.4 303.2L673.2 303L674 302.9L674.8 303L675.5 303.1" stroke="#222" stroke-width="3.9" stroke-linecap="butt"/><path d="M665.8 304.2L666.5 304.4L667.3 304.4L668.1 304.3L668.9 304.1L669.8 303.9L670.6 303.6L671.5 303.4L672.4 303.2L673.2 303L674 302.9L674.8 303L675.5 303.1" stroke="#fff" stroke-width="1.4" stroke-linecap="butt"/><path d="M666.8 300.6L667.6 300.8L668.2 301.2L668.9 301.7L669.5 302.3L670.1 303L670.6 303.6L671.2 304.3L671.8 305L672.4 305.6L673 306.1L673.7 306.5L674.4 306.8" stroke="#222" stroke-width="3.9" stroke-linecap="butt"/><path d="M666.8 300.6L667.6 300.8L668.2 301.2L668.9 301.7L669.5 302.3L670.1 303L670.6 303.6L671.2 304.3L671.8 305L672.4 305.6L673 306.1L673.7 306.5L674.4 306.8" stroke="#fff" stroke-width="1.4" stroke-linecap="butt"/><path d="M674.4 306.8L675.1 306.9L675.9 306.9L676.7 306.9L677.5 306.7L678.4 306.5L679.2 306.3L680.1 306L681 305.8L681.8 305.7L682.6 305.6L683.4 305.7L684.1 305.8" stroke="#222" stroke-width="3.9" stroke-linecap="butt"/><path d="M674.4 306.8L675.1 306.9L675.9 306.9L676.7 306.9L677.5 306.7L678.4 306.5L679.2 306.3L680.1 306L681 305.8L681.8 305.7L682.6 305.6L683.4 305.7L684.1 305.8" stroke="#fff" stroke-width="1.4" stroke-linecap="butt"/><path d="M675.5 303.1L676.2 303.4L676.9 303.8L677.5 304.3L678.1 304.9L678.7 305.6L679.2 306.3L679.8 307L680.4 307.6L681 308.2L681.6 308.8L682.3 309.2L683 309.5" stroke="#222" stroke-width="3.9" stroke-linecap="butt"/><path d="M675.5 303.1L676.2 303.4L676.9 303.8L677.5 304.3L678.1 304.9L678.7 305.6L679.2 306.3L679.8 307L680.4 307.6L681 308.2L681.6 308.8L682.3 309.2L683 309.5" stroke="#fff" stroke-width="1.4" stroke-linecap="butt"/><path d="M683 309.5L683.7 309.6L684.4 309.7L685.3 309.6L686.1 309.5L686.9 309.3L687.8 309.1L688.7 308.9L689.5 308.7L690.4 308.6L691.2 308.5L692 308.6L692.7 308.9" stroke="#222" stroke-width="3.9" stroke-linecap="butt"/><path d="M683 309.5L683.7 309.6L684.4 309.7L685.3 309.6L686.1 309.5L686.9 309.3L687.8 309.1L688.7 308.9L689.5 308.7L690.4 308.6L691.2 308.5L692 308.6L692.7 308.9" stroke="#fff" stroke-width="1.4" stroke-linecap="butt"/><path d="M684.1 305.8L684.8 306.1L685.5 306.5L686.1 307.1L686.7 307.7L687.3 308.4L687.8 309.1L688.3 309.8L688.9 310.5L689.5 311.1L690 311.6L690.7 312.1L691.3 312.4" stroke="#222" stroke-width="3.9" stroke-linecap="butt"/><path d="M684.1 305.8L684.8 306.1L685.5 306.5L686.1 307.1L686.7 307.7L687.3 308.4L687.8 309.1L688.3 309.8L688.9 310.5L689.5 311.1L690 311.6L690.7 312.1L691.3 312.4" stroke="#fff" stroke-width="1.4" stroke-linecap="butt"/><path d="M691.3 312.4L692 312.6L692.8 312.7L693.6 312.7L694.4 312.6L695.3 312.5L696.2 312.4L697.1 312.2L697.9 312.1L698.8 312.1L699.6 312.1L700.4 312.2L701.1 312.5" stroke="#222" stroke-width="3.9" stroke-linecap="butt"/><path d="M691.3 312.4L692 312.6L692.8 312.7L693.6 312.7L694.4 312.6L695.3 312.5L696.2 312.4L697.1 312.2L697.9 312.1L698.8 312.1L699.6 312.1L700.4 312.2L701.1 312.5" stroke="#fff" stroke-width="1.4" stroke-linecap="butt"/><path d="M692.7 308.9L693.4 309.2L694 309.7L694.6 310.2L695.2 310.9L695.7 311.6L696.2 312.4L696.7 313.1L697.2 313.8L697.7 314.5L698.2 315.1L698.8 315.6L699.5 316" stroke="#222" stroke-width="3.9" stroke-linecap="butt"/><path d="M692.7 308.9L693.4 309.2L694 309.7L694.6 310.2L695.2 310.9L695.7 311.6L696.2 312.4L696.7 313.1L697.2 313.8L697.7 314.5L698.2 315.1L698.8 315.6L699.5 316" stroke="#fff" stroke-width="1.4" stroke-linecap="butt"/><path d="M699.5 316L700.2 316.2L700.9 316.4L701.7 316.4L702.6 316.4L703.4 316.3L704.3 316.2L705.2 316L706.1 316L707 315.9L707.8 316L708.5 316.2L709.2 316.4" stroke="#222" stroke-width="3.9" stroke-linecap="butt"/><path d="M699.5 316L700.2 316.2L700.9 316.4L701.7 316.4L702.6 316.4L703.4 316.3L704.3 316.2L705.2 316L706.1 316L707 315.9L707.8 316L708.5 316.2L709.2 316.4" stroke="#fff" stroke-width="1.4" stroke-linecap="butt"/><path d="M701.1 312.5L701.7 312.9L702.3 313.4L702.9 314L703.4 314.7L703.9 315.4L704.3 316.2L704.8 316.9L705.3 317.7L705.8 318.3L706.3 318.9L706.9 319.4L707.5 319.8" stroke="#222" stroke-width="3.9" stroke-linecap="butt"/><path d="M701.1 312.5L701.7 312.9L702.3 313.4L702.9 314L703.4 314.7L703.9 315.4L704.3 316.2L704.8 316.9L705.3 317.7L705.8 318.3L706.3 318.9L706.9 319.4L707.5 319.8" stroke="#fff" stroke-width="1.4" stroke-linecap="butt"/><path d="M707.5 319.8L708.2 320.1L709 320.3L709.8 320.3L710.6 320.3L711.5 320.3L712.4 320.2L713.3 320.1L714.2 320L715 320L715.8 320.1L716.6 320.3L717.3 320.6" stroke="#222" stroke-width="3.9" stroke-linecap="butt"/><path d="M707.5 319.8L708.2 320.1L709 320.3L709.8 320.3L710.6 320.3L711.5 320.3L712.4 320.2L713.3 320.1L714.2 320L715 320L715.8 320.1L716.6 320.3L717.3 320.6" stroke="#fff" stroke-width="1.4" stroke-linecap="butt"/><path d="M709.2 316.4L709.9 316.8L710.5 317.3L711 317.9L711.5 318.6L712 319.4L712.4 320.2L712.8 321L713.3 321.7L713.7 322.4L714.3 323L714.8 323.6L715.4 324" stroke="#222" stroke-width="3.9" stroke-linecap="butt"/><path d="M709.2 316.4L709.9 316.8L710.5 317.3L711 317.9L711.5 318.6L712 319.4L712.4 320.2L712.8 321L713.3 321.7L713.7 322.4L714.3 323L714.8 323.6L715.4 324" stroke="#fff" stroke-width="1.4" stroke-linecap="butt"/><path d="M715.4 324L716.1 324.3L716.8 324.5L717.6 324.6L718.5 324.6L719.4 324.6L720.3 324.6L721.1 324.5L722 324.5L722.9 324.6L723.7 324.7L724.4 325L725.1 325.3" stroke="#222" stroke-width="3.9" stroke-linecap="butt"/><path d="M715.4 324L716.1 324.3L716.8 324.5L717.6 324.6L718.5 324.6L719.4 324.6L720.3 324.6L721.1 324.5L722 324.5L722.9 324.6L723.7 324.7L724.4 325L725.1 325.3" stroke="#fff" stroke-width="1.4" stroke-linecap="butt"/><path d="M717.3 320.6L717.9 321.1L718.5 321.6L719 322.3L719.4 323L719.9 323.8L720.3 324.6L720.6 325.4L721 326.1L721.5 326.9L722 327.5L722.5 328.1L723.1 328.5" stroke="#222" stroke-width="3.9" stroke-linecap="butt"/><path d="M717.3 320.6L717.9 321.1L718.5 321.6L719 322.3L719.4 323L719.9 323.8L720.3 324.6L720.6 325.4L721 326.1L721.5 326.9L722 327.5L722.5 328.1L723.1 328.5" stroke="#fff" stroke-width="1.4" stroke-linecap="butt"/><path d="M723.1 328.5L723.8 328.9L724.5 329.1L725.3 329.2L726.1 329.3L727 329.3L727.9 329.3L728.8 329.3L729.7 329.3L730.5 329.4L731.3 329.5L732 329.7L732.7 330.1" stroke="#222" stroke-width="3.9" stroke-linecap="butt"/><path d="M723.1 328.5L723.8 328.9L724.5 329.1L725.3 329.2L726.1 329.3L727 329.3L727.9 329.3L728.8 329.3L729.7 329.3L730.5 329.4L731.3 329.5L732 329.7L732.7 330.1" stroke="#fff" stroke-width="1.4" stroke-linecap="butt"/><path d="M725.1 325.3L725.7 325.7L726.2 326.3L726.7 327L727.1 327.7L727.5 328.5L727.9 329.3L728.3 330.1L728.7 330.9L729.1 331.6L729.6 332.3L730.1 332.9L730.7 333.3" stroke="#222" stroke-width="3.9" stroke-linecap="butt"/><path d="M725.1 325.3L725.7 325.7L726.2 326.3L726.7 327L727.1 327.7L727.5 328.5L727.9 329.3L728.3 330.1L728.7 330.9L729.1 331.6L729.6 332.3L730.1 332.9L730.7 333.3" stroke="#fff" stroke-width="1.4" stroke-linecap="butt"/><path d="M730.7 333.3L731.4 333.7L732.1 333.9L732.9 334L733.7 334.1L734.6 334.1L735.5 334.1L736.4 334.1L737.3 334.1L738.1 334.2L738.9 334.4L739.7 334.7L740.3 335" stroke="#222" stroke-width="3.9" stroke-linecap="butt"/><path d="M730.7 333.3L731.4 333.7L732.1 333.9L732.9 334L733.7 334.1L734.6 334.1L735.5 334.1L736.4 334.1L737.3 334.1L738.1 334.2L738.9 334.4L739.7 334.7L740.3 335" stroke="#fff" stroke-width="1.4" stroke-linecap="butt"/><path d="M732.7 330.1L733.3 330.5L733.9 331.1L734.3 331.8L734.8 332.5L735.1 333.3L735.5 334.1L735.9 334.9L736.2 335.7L736.7 336.5L737.1 337.1L737.6 337.7L738.2 338.2" stroke="#222" stroke-width="3.9" stroke-linecap="butt"/><path d="M732.7 330.1L733.3 330.5L733.9 331.1L734.3 331.8L734.8 332.5L735.1 333.3L735.5 334.1L735.9 334.9L736.2 335.7L736.7 336.5L737.1 337.1L737.6 337.7L738.2 338.2" stroke="#fff" stroke-width="1.4" stroke-linecap="butt"/><path d="M738.2 338.2L738.8 338.5L739.6 338.8L740.3 339L741.2 339.1L742 339.2L742.9 339.2L743.8 339.3L744.7 339.3L745.5 339.5L746.3 339.7L747 340L747.7 340.5" stroke="#222" stroke-width="3.9" stroke-linecap="butt"/><path d="M738.2 338.2L738.8 338.5L739.6 338.8L740.3 339L741.2 339.1L742 339.2L742.9 339.2L743.8 339.3L744.7 339.3L745.5 339.5L746.3 339.7L747 340L747.7 340.5" stroke="#fff" stroke-width="1.4" stroke-linecap="butt"/><path d="M740.3 335L740.9 335.5L741.4 336.1L741.9 336.8L742.3 337.5L742.6 338.4L742.9 339.2L743.2 340L743.6 340.9L743.9 341.6L744.3 342.3L744.8 342.9L745.3 343.4" stroke="#222" stroke-width="3.9" stroke-linecap="butt"/><path d="M740.3 335L740.9 335.5L741.4 336.1L741.9 336.8L742.3 337.5L742.6 338.4L742.9 339.2L743.2 340L743.6 340.9L743.9 341.6L744.3 342.3L744.8 342.9L745.3 343.4" stroke="#fff" stroke-width="1.4" stroke-linecap="butt"/><path d="M745.3 343.4L745.9 343.8L746.6 344.2L747.4 344.4L748.2 344.6L749.1 344.7L750 344.8L750.9 344.9L751.8 345L752.6 345.1L753.4 345.4L754.1 345.7L754.7 346.1" stroke="#222" stroke-width="3.9" stroke-linecap="butt"/><path d="M745.3 343.4L745.9 343.8L746.6 344.2L747.4 344.4L748.2 344.6L749.1 344.7L750 344.8L750.9 344.9L751.8 345L752.6 345.1L753.4 345.4L754.1 345.7L754.7 346.1" stroke="#fff" stroke-width="1.4" stroke-linecap="butt"/><path d="M747.7 340.5L748.2 341L748.7 341.6L749.1 342.3L749.4 343.1L749.7 343.9L750 344.8L750.3 345.6L750.6 346.4L750.9 347.2L751.3 347.9L751.8 348.6L752.3 349.1" stroke="#222" stroke-width="3.9" stroke-linecap="butt"/><path d="M747.7 340.5L748.2 341L748.7 341.6L749.1 342.3L749.4 343.1L749.7 343.9L750 344.8L750.3 345.6L750.6 346.4L750.9 347.2L751.3 347.9L751.8 348.6L752.3 349.1" stroke="#fff" stroke-width="1.4" stroke-linecap="butt"/><path d="M752.3 349.1L752.9 349.5L753.6 349.8L754.4 350.1L755.2 350.2L756.1 350.3L757 350.4L757.9 350.5L758.8 350.6L759.6 350.8L760.4 351L761.1 351.3L761.7 351.8" stroke="#222" stroke-width="3.9" stroke-linecap="butt"/><path d="M752.3 349.1L752.9 349.5L753.6 349.8L754.4 350.1L755.2 350.2L756.1 350.3L757 350.4L757.9 350.5L758.8 350.6L759.6 350.8L760.4 351L761.1 351.3L761.7 351.8" stroke="#fff" stroke-width="1.4" stroke-linecap="butt"/><path d="M754.7 346.1L755.2 346.6L755.7 347.3L756.1 348L756.4 348.7L756.7 349.6L757 350.4L757.3 351.3L757.6 352.1L757.9 352.9L758.3 353.6L758.8 354.2L759.3 354.7" stroke="#222" stroke-width="3.9" stroke-linecap="butt"/><path d="M754.7 346.1L755.2 346.6L755.7 347.3L756.1 348L756.4 348.7L756.7 349.6L757 350.4L757.3 351.3L757.6 352.1L757.9 352.9L758.3 353.6L758.8 354.2L759.3 354.7" stroke="#fff" stroke-width="1.4" stroke-linecap="butt"/><path d="M759.3 354.7L759.9 355.1L760.6 355.5L761.4 355.7L762.2 355.9L763.1 356L764 356.1L764.9 356.2L765.8 356.3L766.6 356.5L767.4 356.7L768.1 357.1L768.7 357.5" stroke="#222" stroke-width="3.9" stroke-linecap="butt"/><path d="M759.3 354.7L759.9 355.1L760.6 355.5L761.4 355.7L762.2 355.9L763.1 356L764 356.1L764.9 356.2L765.8 356.3L766.6 356.5L767.4 356.7L768.1 357.1L768.7 357.5" stroke="#fff" stroke-width="1.4" stroke-linecap="butt"/><path d="M761.7 351.8L762.3 352.3L762.7 352.9L763.1 353.6L763.4 354.4L763.7 355.2L764 356.1L764.3 356.9L764.6 357.8L764.9 358.5L765.3 359.2L765.7 359.9L766.2 360.4" stroke="#222" stroke-width="3.9" stroke-linecap="butt"/><path d="M761.7 351.8L762.3 352.3L762.7 352.9L763.1 353.6L763.4 354.4L763.7 355.2L764 356.1L764.3 356.9L764.6 357.8L764.9 358.5L765.3 359.2L765.7 359.9L766.2 360.4" stroke="#fff" stroke-width="1.4" stroke-linecap="butt"/><path d="M766.2 360.4L766.9 360.8L767.6 361.2L768.3 361.4L769.1 361.6L770 361.7L770.9 361.9L771.8 362L772.7 362.1L773.5 362.3L774.2 362.6L774.9 363L775.5 363.4" stroke="#222" stroke-width="3.9" stroke-linecap="butt"/><path d="M766.2 360.4L766.9 360.8L767.6 361.2L768.3 361.4L769.1 361.6L770 361.7L770.9 361.9L771.8 362L772.7 362.1L773.5 362.3L774.2 362.6L774.9 363L775.5 363.4" stroke="#fff" stroke-width="1.4" stroke-linecap="butt"/><path d="M768.7 357.5L769.2 358L769.7 358.7L770.1 359.4L770.4 360.2L770.7 361L770.9 361.9L771.1 362.7L771.4 363.6L771.7 364.3L772.1 365.1L772.5 365.7L773 366.3" stroke="#222" stroke-width="3.9" stroke-linecap="butt"/><path d="M768.7 357.5L769.2 358L769.7 358.7L770.1 359.4L770.4 360.2L770.7 361L770.9 361.9L771.1 362.7L771.4 363.6L771.7 364.3L772.1 365.1L772.5 365.7L773 366.3" stroke="#fff" stroke-width="1.4" stroke-linecap="butt"/><path d="M773 366.3L773.6 366.7L774.3 367.1L775 367.3L775.8 367.6L776.7 367.7L777.6 367.9L778.5 368L779.3 368.2L780.2 368.4L780.9 368.7L781.6 369.1L782.2 369.6" stroke="#222" stroke-width="3.9" stroke-linecap="butt"/><path d="M773 366.3L773.6 366.7L774.3 367.1L775 367.3L775.8 367.6L776.7 367.7L777.6 367.9L778.5 368L779.3 368.2L780.2 368.4L780.9 368.7L781.6 369.1L782.2 369.6" stroke="#fff" stroke-width="1.4" stroke-linecap="butt"/><path d="M775.5 363.4L776.1 364L776.5 364.6L776.8 365.4L777.1 366.2L777.4 367L777.6 367.9L777.8 368.7L778 369.6L778.3 370.4L778.6 371.1L779.1 371.8L779.6 372.3" stroke="#222" stroke-width="3.9" stroke-linecap="butt"/><path d="M775.5 363.4L776.1 364L776.5 364.6L776.8 365.4L777.1 366.2L777.4 367L777.6 367.9L777.8 368.7L778 369.6L778.3 370.4L778.6 371.1L779.1 371.8L779.6 372.3" stroke="#fff" stroke-width="1.4" stroke-linecap="butt"/><path d="M779.6 372.3L780.1 372.8L780.8 373.2L781.6 373.5L782.4 373.7L783.2 373.9L784.1 374.1L785 374.3L785.8 374.5L786.7 374.7L787.4 375L788.1 375.4L788.6 375.9" stroke="#222" stroke-width="3.9" stroke-linecap="butt"/><path d="M779.6 372.3L780.1 372.8L780.8 373.2L781.6 373.5L782.4 373.7L783.2 373.9L784.1 374.1L785 374.3L785.8 374.5L786.7 374.7L787.4 375L788.1 375.4L788.6 375.9" stroke="#fff" stroke-width="1.4" stroke-linecap="butt"/><path d="M782.2 369.6L782.7 370.2L783.1 370.8L783.4 371.6L783.7 372.4L783.9 373.2L784.1 374.1L784.3 375L784.5 375.8L784.8 376.6L785.1 377.4L785.5 378L785.9 378.6" stroke="#222" stroke-width="3.9" stroke-linecap="butt"/><path d="M782.2 369.6L782.7 370.2L783.1 370.8L783.4 371.6L783.7 372.4L783.9 373.2L784.1 374.1L784.3 375L784.5 375.8L784.8 376.6L785.1 377.4L785.5 378L785.9 378.6" stroke="#fff" stroke-width="1.4" stroke-linecap="butt"/><path d="M785.9 378.6L786.5 379.1L787.2 379.5L787.9 379.8L788.7 380.1L789.6 380.3L790.5 380.5L791.3 380.6L792.2 380.8L793 381.1L793.7 381.4L794.4 381.8L795 382.3" stroke="#222" stroke-width="3.9" stroke-linecap="butt"/><path d="M785.9 378.6L786.5 379.1L787.2 379.5L787.9 379.8L788.7 380.1L789.6 380.3L790.5 380.5L791.3 380.6L792.2 380.8L793 381.1L793.7 381.4L794.4 381.8L795 382.3" stroke="#fff" stroke-width="1.4" stroke-linecap="butt"/><path d="M788.6 375.9L789.1 376.5L789.5 377.2L789.8 377.9L790.1 378.7L790.3 379.6L790.5 380.5L790.6 381.3L790.8 382.2L791.1 383L791.4 383.7L791.8 384.4L792.3 385" stroke="#222" stroke-width="3.9" stroke-linecap="butt"/><path d="M788.6 375.9L789.1 376.5L789.5 377.2L789.8 377.9L790.1 378.7L790.3 379.6L790.5 380.5L790.6 381.3L790.8 382.2L791.1 383L791.4 383.7L791.8 384.4L792.3 385" stroke="#fff" stroke-width="1.4" stroke-linecap="butt"/><path d="M792.3 385L792.9 385.5L793.6 385.9L794.3 386.2L795.1 386.4L796 386.6L796.8 386.8L797.7 387L798.6 387.2L799.4 387.5L800.1 387.8L800.8 388.2L801.4 388.7" stroke="#222" stroke-width="3.9" stroke-linecap="butt"/><path d="M792.3 385L792.9 385.5L793.6 385.9L794.3 386.2L795.1 386.4L796 386.6L796.8 386.8L797.7 387L798.6 387.2L799.4 387.5L800.1 387.8L800.8 388.2L801.4 388.7" stroke="#fff" stroke-width="1.4" stroke-linecap="butt"/><path d="M795 382.3L795.5 382.9L795.9 383.5L796.2 384.3L796.4 385.1L796.7 385.9L796.8 386.8L797 387.7L797.2 388.5L797.5 389.3L797.8 390.1L798.2 390.7L798.6 391.3" stroke="#222" stroke-width="3.9" stroke-linecap="butt"/><path d="M795 382.3L795.5 382.9L795.9 383.5L796.2 384.3L796.4 385.1L796.7 385.9L796.8 386.8L797 387.7L797.2 388.5L797.5 389.3L797.8 390.1L798.2 390.7L798.6 391.3" stroke="#fff" stroke-width="1.4" stroke-linecap="butt"/><path d="M798.6 391.3L799.2 391.8L799.8 392.2L800.6 392.6L801.4 392.8L802.2 393.1L803.1 393.3L803.9 393.5L804.8 393.8L805.6 394.1L806.3 394.4L807 394.8" stroke="#222" stroke-width="3.9" stroke-linecap="butt"/><path d="M798.6 391.3L799.2 391.8L799.8 392.2L800.6 392.6L801.4 392.8L802.2 393.1L803.1 393.3L803.9 393.5L804.8 393.8L805.6 394.1L806.3 394.4L807 394.8" stroke="#fff" stroke-width="1.4" stroke-linecap="butt"/><path d="M801.4 388.7L801.9 389.3L802.2 390L802.5 390.7L802.8 391.5L802.9 392.4L803.1 393.3L803.2 394.2L803.4 395L803.6 395.9L803.9 396.6L804.2 397.3" stroke="#222" stroke-width="3.9" stroke-linecap="butt"/><path d="M801.4 388.7L801.9 389.3L802.2 390L802.5 390.7L802.8 391.5L802.9 392.4L803.1 393.3L803.2 394.2L803.4 395L803.6 395.9L803.9 396.6L804.2 397.3" stroke="#fff" stroke-width="1.4" stroke-linecap="butt"/>
</g>
<g id="p4_esc">
<path d="M778.3 417.5L824.2 384.7L826.7 383L826.7 383C827.6 383.8 829.8 386.7 832 388C834.2 389.3 837.2 390.6 840 390.8C842.8 391.1 846.2 390.3 849 389.5C851.8 388.7 855.4 386.8 856.7 386.2L860 386.2L1000.8 485.8Q1003.5 489 1001.7 493L1001.5 497.5L1001.5 497.5C997.9 498.8 986.6 501.9 980 505C973.4 508.1 967.7 511.8 962 516C956.3 520.2 950.7 525.3 946 530C941.3 534.7 936 541.7 934 544L932.5 561Q928 565.5 921 564.5Q916 564 915 560.8L776.7 463.3L776.2 446L773.3 441.7L774.2 423.3Q775 419 778.3 417.5Z" fill="#fff" stroke="none"/>
<path d="M778.3 417.5L824.2 384.7L826.7 383L826.7 383C827.6 383.8 829.8 386.7 832 388C834.2 389.3 837.2 390.6 840 390.8C842.8 391.1 846.2 390.3 849 389.5C851.8 388.7 855.4 386.8 856.7 386.2L860 386.2L1000.8 485.8" stroke="#222" stroke-width="1.15"/>
<path d="M828 385.5C828.8 386.2 831 388.7 833 389.8C835 390.9 837.3 392.1 840 392.3C842.7 392.5 846 391.6 849 391C852 390.4 856.8 389.1 858.3 388.7L995 485" stroke="#222" stroke-width="0.9"/>
<path d="M1000.8 485.8Q1003.8 489.5 1001.7 493M995 485Q993 489 996.5 492.5Q999 494 1001.7 493" stroke="#222" stroke-width="0.9"/>
<path d="M778.3 417.5C784 419 788.5 424 787.5 430C786.8 435.5 784.5 439.5 781.7 442.5" stroke="#222" stroke-width="1.15"/>
<path d="M778.3 417.5Q774.8 419.5 774.2 423.3L773.3 441.7L776.2 446L776.7 463.3" stroke="#222" stroke-width="1.15"/>
<path d="M775.6 425C779 427.5 780.6 432 780 436.7C779.6 440 778.6 442.5 776.7 444.2" stroke="#222" stroke-width="0.8"/>
<path d="M781.7 442.5Q783 441 785 441.7L920.8 536.7" stroke="#222" stroke-width="1.15"/>
<path d="M776.7 451.7L914.2 546.7" stroke="#222" stroke-width="1.15"/>
<path d="M777.5 449L776.7 451.7" stroke="#222" stroke-width="0.8"/>
<path d="M776.7 460.6L913.5 557.6M776.7 463.3L915 560.8" stroke="#222" stroke-width="0.8"/>
<path d="M913.3 546.5C913.8 541 917 537 920.8 536.7C925.5 536.3 930.5 537.5 932.5 540.8" stroke="#222" stroke-width="1.15"/>
<path d="M913.3 546.5L913.6 558.5Q914.5 563.5 921 564.5Q928.5 565.3 932.5 561L932.5 540.8" stroke="#222" stroke-width="1.15"/>
<path d="M916.7 543L917 562.5M920.8 538.5L921.2 564M929.8 540L930 562.5" stroke="#222" stroke-width="0.7"/>
<path d="M914 553.5Q922 556.5 932.3 553" stroke="#222" stroke-width="0.7"/>
<path d="M931 538.5C933 536.2 938.2 529 943 524.5C947.8 520 954 515.4 960 511.3C966 507.2 972.7 503.2 979 500C985.3 496.8 994.8 493.2 998 491.8" stroke="#222" stroke-width="0.9"/>
<path d="M932.5 540.8C934.5 538.4 939.8 531 944.5 526.5C949.2 522 955.1 517.5 961 513.5C966.9 509.5 973.5 505.4 980 502.3C986.5 499.2 996.7 496 1000 494.7" stroke="#222" stroke-width="0.9"/>
<path d="M934 544C936 541.7 941.3 534.6 946 530C950.7 525.4 956.2 520.7 962 516.5C967.8 512.3 974.4 508.2 981 505C987.6 501.8 998.1 498.8 1001.5 497.5" stroke="#222" stroke-width="0.9"/>
<path d="M983 512L983 521L987 523.6M978.5 516.3L978.5 524.5" stroke="#222" stroke-width="0.8"/>
<path d="M985 512.5L1000.8 501.7L1013.3 509.7L1013.3 518.9L995.8 530L985 521.7Z" fill="#fff" stroke="none"/><path d="M985 512.5L1000.8 501.7L1013.3 509.7L995.8 520.8ZM985 512.5L985 521.7L995.8 530L995.8 520.8M995.8 530L1013.3 518.9L1013.3 509.7" stroke="#222" stroke-width="1"/>
<path d="M995.8 520.8L1013.3 509.7M985 512.5L995.8 520.8" stroke="#222" stroke-width="1.5"/>
<path d="M957 529L957 538.5L961 541M952.8 532.8L952.8 541" stroke="#222" stroke-width="0.8"/>
<path d="M960 530L974.2 519.7L987.5 527.5L987.5 536.7L970.8 547.5L960 539.2Z" fill="#fff" stroke="none"/><path d="M960 530L974.2 519.7L987.5 527.5L970.8 538.3ZM960 530L960 539.2L970.8 547.5L970.8 538.3M970.8 547.5L987.5 536.7L987.5 527.5" stroke="#222" stroke-width="1"/>
<path d="M970.8 538.3L987.5 527.5M960 530L970.8 538.3" stroke="#222" stroke-width="1.5"/>
<path d="M933.3 547.5L949.2 536.7L962.5 545L962.5 554.2L945 565L933.3 556.7Z" fill="#fff" stroke="none"/><path d="M933.3 547.5L949.2 536.7L962.5 545L945 555.8ZM933.3 547.5L933.3 556.7L945 565L945 555.8M945 565L962.5 554.2L962.5 545" stroke="#222" stroke-width="1"/>
<path d="M945 555.8L962.5 545M933.3 547.5L945 555.8" stroke="#222" stroke-width="1.5"/>
<ellipse cx="840.1" cy="423.9" rx="16" ry="8.8" stroke="#222" stroke-width="0.9" fill="#fff" transform="rotate(-4 840.1 423.9)"/>
<path d="M826.5 426.5L836 421.5L834.5 420.2L839.5 419.8L851.5 416.8L853.5 418L845.5 422.2L848.5 424.3L846.8 428.8L841.8 429.2L841 425.3L828.5 428Z" stroke="#222" stroke-width="0.7" fill="#fff"/>
<text transform="matrix(0.1720 0.1208 -0.1700 0.1054 846.6 437.2)" x="0" y="0" font-family="Liberation Sans, sans-serif" font-weight="700" font-style="italic" font-size="100" fill="#fff" stroke="#222" stroke-width="5" letter-spacing="-1" text-rendering="geometricPrecision">FLYCOLOR</text>
<ellipse cx="955.3" cy="497" rx="4" ry="3.1" fill="#111" stroke="none"/>
</g>
<g id="p5_mwires">
<path d="M1040.5 530.3C1042.1 530.7 1046.8 532 1050 532.5C1053.2 533 1056.7 533.3 1060 533C1063.3 532.7 1066.7 532 1070 530.8C1073.3 529.6 1075.5 528.7 1080 525.8C1084.5 522.9 1090.9 518.3 1096.7 513.3C1102.5 508.2 1109.1 500.5 1115 495.5C1120.9 490.5 1125.3 487.6 1132 483.5C1138.7 479.4 1147 474.9 1155 471C1163 467.1 1171.7 463.2 1180 460C1188.3 456.8 1196.7 454 1205 451.5C1213.3 449 1220 446.7 1230 445C1240 443.3 1252.8 442.3 1265 441.5C1277.2 440.7 1296.7 440.5 1303 440.3L1303 448.3C1296.7 448.5 1277.2 448.7 1265 449.5C1252.8 450.3 1240 451.3 1230 453C1220 454.7 1213.3 457 1205 459.5C1196.7 462 1188.3 464.7 1180 468C1171.7 471.3 1162.2 475.8 1155 479.5C1147.8 483.2 1142.4 486.5 1136.7 490.5C1131 494.5 1126.3 499 1121 503.5C1115.7 508 1109.7 513.8 1105 517.5C1100.3 521.2 1097.2 523.2 1093 526C1088.8 528.8 1083.8 532.2 1080 534.2C1076.2 536.2 1073.3 537.1 1070 538C1066.7 538.9 1063.3 539.5 1060 539.7C1056.7 540 1053.2 539.9 1050 539.5C1046.8 539.1 1042.3 537.8 1040.8 537.5Z" fill="#fff" stroke="none"/><path d="M1040.5 530.3C1042.1 530.7 1046.8 532 1050 532.5C1053.2 533 1056.7 533.3 1060 533C1063.3 532.7 1066.7 532 1070 530.8C1073.3 529.6 1075.5 528.7 1080 525.8C1084.5 522.9 1090.9 518.3 1096.7 513.3C1102.5 508.2 1109.1 500.5 1115 495.5C1120.9 490.5 1125.3 487.6 1132 483.5C1138.7 479.4 1147 474.9 1155 471C1163 467.1 1171.7 463.2 1180 460C1188.3 456.8 1196.7 454 1205 451.5C1213.3 449 1220 446.7 1230 445C1240 443.3 1252.8 442.3 1265 441.5C1277.2 440.7 1296.7 440.5 1303 440.3M1040.8 537.5C1042.3 537.8 1046.8 539.1 1050 539.5C1053.2 539.9 1056.7 540 1060 539.7C1063.3 539.5 1066.7 538.9 1070 538C1073.3 537.1 1076.2 536.2 1080 534.2C1083.8 532.2 1088.8 528.8 1093 526C1097.2 523.2 1100.3 521.2 1105 517.5C1109.7 513.8 1115.7 508 1121 503.5C1126.3 499 1131 494.5 1136.7 490.5C1142.4 486.5 1147.8 483.2 1155 479.5C1162.2 475.8 1171.7 471.3 1180 468C1188.3 464.7 1196.7 462 1205 459.5C1213.3 457 1220 454.7 1230 453C1240 451.3 1252.8 450.3 1265 449.5C1277.2 448.7 1296.7 448.5 1303 448.3" stroke="#555" stroke-width="0.9"/>
<path d="M1040.8 530.3C1038.6 532 1038.6 536 1040.8 537.5M1040.5 530.6L1037.5 530.2C1035 530.6 1034.6 534.8 1037 535.6L1039.5 536.5" stroke="#555" stroke-width="0.8" fill="#fff"/>
<path d="M1015 551.7C1016.8 552.1 1022.1 553.7 1026 554.3C1029.9 554.9 1034.5 555.2 1038.3 555.3C1042.1 555.4 1045.4 555.3 1049 554.8C1052.6 554.3 1056.5 553.6 1060 552.5C1063.5 551.4 1066.7 550 1070 548.3C1073.3 546.6 1076.3 545 1080 542.5C1083.7 540 1087.8 536.7 1092 533.5C1096.2 530.3 1100.8 526.9 1105 523.3C1109.2 519.7 1112.8 515.8 1117 512C1121.2 508.2 1125.3 504.5 1130 500.8C1134.7 497.1 1139.7 493.6 1145 490C1150.3 486.4 1156.2 482.7 1162 479.5C1167.8 476.3 1172.8 473.7 1180 470.8C1187.2 467.9 1196.7 464.6 1205 462C1213.3 459.4 1220 457.2 1230 455.5C1240 453.8 1252.8 452.8 1265 452C1277.2 451.2 1296.7 451 1303 450.8L1303 458.3C1296.7 458.6 1277.2 459.1 1265 460.2C1252.8 461.3 1240 462.8 1230 464.7C1220 466.6 1213.3 468.8 1205 471.5C1196.7 474.2 1187.4 477.8 1180 480.8C1172.6 483.8 1166.6 486.4 1160.8 489.3C1155 492.2 1150.1 495.2 1145 498.5C1139.9 501.8 1134.7 505.6 1130 509.2C1125.3 512.8 1121.2 516.6 1117 520.2C1112.8 523.8 1109.2 527.2 1105 530.8C1100.8 534.3 1096.2 538.2 1092 541.5C1087.8 544.8 1083.7 548.4 1080 550.8C1076.3 553.2 1073.3 554.5 1070 556C1066.7 557.5 1063.5 559 1060 560C1056.5 561 1052.6 561.8 1049 562.2C1045.4 562.6 1042.1 562.6 1038.3 562.5C1034.5 562.4 1029.9 562 1026 561.3C1022.1 560.6 1016.8 558.8 1015 558.3Z" fill="#fff" stroke="none"/><path d="M1015 551.7C1016.8 552.1 1022.1 553.7 1026 554.3C1029.9 554.9 1034.5 555.2 1038.3 555.3C1042.1 555.4 1045.4 555.3 1049 554.8C1052.6 554.3 1056.5 553.6 1060 552.5C1063.5 551.4 1066.7 550 1070 548.3C1073.3 546.6 1076.3 545 1080 542.5C1083.7 540 1087.8 536.7 1092 533.5C1096.2 530.3 1100.8 526.9 1105 523.3C1109.2 519.7 1112.8 515.8 1117 512C1121.2 508.2 1125.3 504.5 1130 500.8C1134.7 497.1 1139.7 493.6 1145 490C1150.3 486.4 1156.2 482.7 1162 479.5C1167.8 476.3 1172.8 473.7 1180 470.8C1187.2 467.9 1196.7 464.6 1205 462C1213.3 459.4 1220 457.2 1230 455.5C1240 453.8 1252.8 452.8 1265 452C1277.2 451.2 1296.7 451 1303 450.8M1015 558.3C1016.8 558.8 1022.1 560.6 1026 561.3C1029.9 562 1034.5 562.4 1038.3 562.5C1042.1 562.6 1045.4 562.6 1049 562.2C1052.6 561.8 1056.5 561 1060 560C1063.5 559 1066.7 557.5 1070 556C1073.3 554.5 1076.3 553.2 1080 550.8C1083.7 548.4 1087.8 544.8 1092 541.5C1096.2 538.2 1100.8 534.3 1105 530.8C1109.2 527.2 1112.8 523.8 1117 520.2C1121.2 516.6 1125.3 512.8 1130 509.2C1134.7 505.6 1139.9 501.8 1145 498.5C1150.1 495.2 1155 492.2 1160.8 489.3C1166.6 486.4 1172.6 483.8 1180 480.8C1187.4 477.8 1196.7 474.2 1205 471.5C1213.3 468.8 1220 466.6 1230 464.7C1240 462.8 1252.8 461.3 1265 460.2C1277.2 459.1 1296.7 458.6 1303 458.3" stroke="#555" stroke-width="0.9"/>
<path d="M1015.3 551.7C1013 553.2 1013 557 1015.3 558.5M1015 552L1012 551.6C1009.6 552 1009.2 556.2 1011.6 557L1014 557.8" stroke="#555" stroke-width="0.8" fill="#fff"/>
<path d="M991.7 574.7C993.4 575 998.4 575.8 1002 576.3C1005.6 576.8 1009.3 577.1 1013.3 577.5C1017.3 577.9 1021.8 578.3 1026 578.4C1030.2 578.5 1034.5 578.5 1038.3 578.3C1042.1 578.1 1045.4 577.8 1049 577.2C1052.6 576.7 1056.5 575.9 1060 575C1063.5 574.1 1066.7 573 1070 571.8C1073.3 570.5 1076.3 569.6 1080 567.5C1083.7 565.4 1087.8 562 1092 559C1096.2 556 1100.8 552.9 1105 549.2C1109.2 545.5 1112.8 541.3 1117 537C1121.2 532.7 1125.8 527.5 1130 523.3C1134.2 519.1 1137.8 515.5 1142 512C1146.2 508.5 1151 505.4 1155 502.5C1159 499.6 1162.2 496.8 1166 494.5C1169.8 492.2 1173.5 490.5 1177.5 488.5C1181.5 486.5 1185.4 484.5 1190 482.5C1194.6 480.5 1198.3 478.9 1205 476.5C1211.7 474.1 1220 470.5 1230 468.3C1240 466.1 1252.8 464.6 1265 463.5C1277.2 462.4 1296.7 462.2 1303 462L1303 469.7C1296.7 470 1277.2 470.3 1265 471.5C1252.8 472.7 1240 474.6 1230 477C1220 479.4 1211.3 483.7 1205 486C1198.7 488.3 1196.2 489.3 1192 491C1187.8 492.7 1184.2 494.4 1180 496.3C1175.8 498.2 1171.2 500.2 1167 502.5C1162.8 504.8 1159.2 507.1 1155 510C1150.8 512.9 1146.2 516.4 1142 520C1137.8 523.6 1134.2 527.5 1130 531.7C1125.8 535.9 1121.2 540.8 1117 545C1112.8 549.2 1109.2 553.1 1105 556.7C1100.8 560.3 1096.2 563.5 1092 566.5C1087.8 569.5 1083.7 572.9 1080 575C1076.3 577.1 1073.3 578 1070 579.3C1066.7 580.5 1063.8 581.5 1060 582.5C1056.2 583.5 1051.5 584.4 1047 585C1042.5 585.6 1037.3 586 1033.3 586.2C1029.3 586.4 1026.3 586.2 1023 586C1019.7 585.8 1016.8 585.4 1013.3 585C1009.8 584.6 1005.6 584.2 1002 583.7C998.4 583.2 993.4 582 991.7 581.7Z" fill="#fff" stroke="none"/><path d="M991.7 574.7C993.4 575 998.4 575.8 1002 576.3C1005.6 576.8 1009.3 577.1 1013.3 577.5C1017.3 577.9 1021.8 578.3 1026 578.4C1030.2 578.5 1034.5 578.5 1038.3 578.3C1042.1 578.1 1045.4 577.8 1049 577.2C1052.6 576.7 1056.5 575.9 1060 575C1063.5 574.1 1066.7 573 1070 571.8C1073.3 570.5 1076.3 569.6 1080 567.5C1083.7 565.4 1087.8 562 1092 559C1096.2 556 1100.8 552.9 1105 549.2C1109.2 545.5 1112.8 541.3 1117 537C1121.2 532.7 1125.8 527.5 1130 523.3C1134.2 519.1 1137.8 515.5 1142 512C1146.2 508.5 1151 505.4 1155 502.5C1159 499.6 1162.2 496.8 1166 494.5C1169.8 492.2 1173.5 490.5 1177.5 488.5C1181.5 486.5 1185.4 484.5 1190 482.5C1194.6 480.5 1198.3 478.9 1205 476.5C1211.7 474.1 1220 470.5 1230 468.3C1240 466.1 1252.8 464.6 1265 463.5C1277.2 462.4 1296.7 462.2 1303 462M991.7 581.7C993.4 582 998.4 583.2 1002 583.7C1005.6 584.2 1009.8 584.6 1013.3 585C1016.8 585.4 1019.7 585.8 1023 586C1026.3 586.2 1029.3 586.4 1033.3 586.2C1037.3 586 1042.5 585.6 1047 585C1051.5 584.4 1056.2 583.5 1060 582.5C1063.8 581.5 1066.7 580.5 1070 579.3C1073.3 578 1076.3 577.1 1080 575C1083.7 572.9 1087.8 569.5 1092 566.5C1096.2 563.5 1100.8 560.3 1105 556.7C1109.2 553.1 1112.8 549.2 1117 545C1121.2 540.8 1125.8 535.9 1130 531.7C1134.2 527.5 1137.8 523.6 1142 520C1146.2 516.4 1150.8 512.9 1155 510C1159.2 507.1 1162.8 504.8 1167 502.5C1171.2 500.2 1175.8 498.2 1180 496.3C1184.2 494.4 1187.8 492.7 1192 491C1196.2 489.3 1198.7 488.3 1205 486C1211.3 483.7 1220 479.4 1230 477C1240 474.6 1252.8 472.7 1265 471.5C1277.2 470.3 1296.7 470 1303 469.7" stroke="#555" stroke-width="0.9"/>
<path d="M992 574.7C989.7 576.2 989.7 580.2 992 581.7M991.7 575L988.7 574.6C986.3 575 985.9 579.2 988.3 580L990.7 580.8" stroke="#555" stroke-width="0.8" fill="#fff"/>
</g>
<g id="p6_motor">
<path d="M1300.1 421.1L1318.3 416L1318.3 404.8L1334.5 398.6L1402 394.8L1410.6 396.5L1412 408L1436 408.6L1438.8 413.8L1441 436L1441.8 468L1441.8 468C1440.5 471 1437 481.1 1434 486C1431 490.9 1430.8 493.8 1424 497.5C1417.2 501.2 1400.2 506 1393 508C1385.8 510 1386.1 509.8 1381 509.5C1375.9 509.2 1368.4 506 1362.3 506C1356.2 506 1349.4 510.3 1344.4 509.5C1339.4 508.7 1338 503.2 1332.5 501C1327 498.8 1316.4 498.5 1311.7 496C1307 493.5 1305.7 487.7 1304.5 486L1303.3 470Z" fill="#fff" stroke="none"/>
<path d="M1304.8 486.8L1311.7 495.7L1332 500.3L1334.3 507.3L1344.4 509.3L1344.4 509.3C1345.8 508.9 1350 507.2 1353 506.6C1356 506 1359.1 505.6 1362.3 505.6C1365.5 505.6 1368.9 506 1372 506.6C1375.1 507.2 1379.6 508.9 1381.1 509.3L1393 507.6L1394 499.8L1394 499.8C1395.7 499.5 1400.7 498.1 1404 497.8C1407.3 497.5 1410.7 498.3 1414 498.2C1417.3 498.1 1422.1 497.5 1423.7 497.4L1433.6 489.7L1433.8 486" stroke="#2a1f1c" stroke-width="1" fill="#fff"/>
<path d="M1332.5 500.6L1344 503.2L1344.4 509.2M1344 503.2L1344 503.2C1345.5 502.8 1350 501.2 1353 500.6C1356 500 1359.1 499.8 1362.3 499.8C1365.5 499.8 1368.9 500.1 1372 500.6C1375.1 501.1 1379.5 502.6 1381 503L1381.1 509.2M1381 503L1393.5 500M1311.7 495.7L1313 490.5M1423.7 497.4L1422.5 491.5M1336 502L1336.5 508M1340 502.6L1340.3 508.6M1385 502.3L1385 508.8M1389 501.3L1389 508.2" stroke="#2a1f1c" stroke-width="0.8"/>
<path d="M1304.5 485C1308.5 486.1 1317.9 490 1328.3 491.6C1338.8 493.1 1354.1 494.3 1367.2 494.4C1380.3 494.5 1396.1 493.3 1407.2 492C1418.3 490.7 1429.4 487.4 1433.8 486.5" stroke="#2a1f1c" stroke-width="1.1"/>
<path d="M1304.3 481.5C1308.3 482.7 1317.7 487 1328.2 488.7C1338.7 490.4 1353.6 491.9 1367.2 491.8C1380.8 491.7 1397.9 490.2 1409.7 488.3C1421.5 486.3 1433.3 481.4 1438 480" stroke="#2a1f1c" stroke-width="0.8"/>
<path d="M1304.3 476.8C1308.3 478.3 1317.7 483.8 1328.2 486C1338.7 488.2 1353.2 490.4 1367.2 490C1381.2 489.6 1399.6 487.2 1412.1 483.7C1424.5 480.2 1437 471.4 1442 469" stroke="#2a1f1c" stroke-width="1.3"/>
<path d="M1304 473C1308 474.7 1317.5 480.8 1328 483.2C1338.5 485.7 1353.2 488 1367.2 487.6C1381.2 487.2 1399.5 484.7 1412 481C1424.4 477.3 1436.8 468.1 1441.8 465.5" stroke="#2a1f1c" stroke-width="0.8"/>
<path d="M1303.8 470.2C1307.8 472 1317.3 478.6 1327.9 481.3C1338.5 483.9 1353.3 486.4 1367.2 486C1381.1 485.6 1399.2 482.9 1411.5 479C1423.8 475.2 1436.1 465.5 1441 462.8" stroke="#2a1f1c" stroke-width="1.5"/>
<path d="M1441.8 462L1442.2 470M1438 480L1440 472" stroke="#2a1f1c" stroke-width="1"/>
<path d="M1301.3 438L1303.3 474.9L1304.8 487M1440.3 434L1441.2 463" stroke="#2a1f1c" stroke-width="1.1"/>
<path d="M1302.3 453.8C1304.9 454.6 1311.8 457.2 1318 458.8C1324.2 460.4 1331 462.1 1339.5 463.2C1348 464.3 1360.3 465.3 1369.2 465.3C1378.1 465.3 1386.4 464.1 1393 463C1399.6 461.9 1403.1 460.6 1408.8 458.7C1414.5 456.8 1421.7 454.1 1427 451.5C1432.3 448.9 1438.3 444.3 1440.6 442.9" stroke="#2a1f1c" stroke-width="1.8"/>
<path d="M1303.8 444C1305.2 444.8 1307.9 446.6 1312 448.5C1316.1 450.4 1325.8 454.2 1328.5 455.4" stroke="#2a1f1c" stroke-width="0.9"/>
<path d="M1397.3 457.1C1399.2 456.6 1405.2 455.2 1409 453.8C1412.8 452.4 1418.5 449.8 1420.4 449" stroke="#2a1f1c" stroke-width="0.9"/>
<text x="1345.6" y="477.9" font-family="Liberation Sans, sans-serif" font-weight="700" font-size="8.2" textLength="51" lengthAdjust="spacingAndGlyphs" fill="#fff" stroke="#2a1f1c" stroke-width="0.9">FLYCOLOR</text>
<circle cx="1399.6" cy="471.5" r="1.2" fill="#2a1f1c" stroke="none"/>
<path d="M1300.1 421.1L1335.1 421.4L1335.8 426.1L1303.6 431.7Z" fill="#fff" stroke="#2a1f1c" stroke-width="1.1"/>
<path d="M1300.1 421.1L1301.3 438M1303.6 431.7L1303.9 444" stroke="#2a1f1c" stroke-width="1.1"/>
<path d="M1300.1 421.1L1312 420.8L1318.6 416" stroke="#2a1f1c" stroke-width="1.1"/>
<path d="M1309 437.5L1338 429.5L1349 431L1329 445L1327.6 455L1312 448.5Z" fill="#fff" stroke="#2a1f1c" stroke-width="0.9"/>
<path d="M1311 438.2L1314.2 448.6M1314.3 437.3L1317.5 449.1M1317.6 436.4L1320.8 449.6M1320.9 435.5L1324.1 450.1M1324.2 434.6L1327.4 450.6M1327.5 433.7L1330.7 445.5M1330.8 432.8L1334 445.2" stroke="#2a1f1c" stroke-width="1.6"/>
<path d="M1310 437.3L1338 429.6M1333 432.5L1346 431.8M1330 436L1341 434.8M1329.5 439.5L1336 438.5" stroke="#2a1f1c" stroke-width="1.3"/>
<path d="M1353.3 431.5L1327.6 445.4L1327.6 455.4L1354 460.5L1354.3 448.4L1364.2 433.5Z" fill="#fff" stroke="none"/>
<path d="M1353.3 431.5L1327.6 445.4L1354.3 448.4L1364.2 433.5M1327.6 445.4L1327.6 456M1354.3 448.4L1354.5 461M1357 449L1367 434.3" stroke="#2a1f1c" stroke-width="1.1"/>
<path d="M1357 449L1367.5 434.5L1381.5 434L1396.9 444.4L1398.3 453.3L1357.5 461.5Z" fill="#fff" stroke="#2a1f1c" stroke-width="1"/>
<path d="M1359.5 458C1358.5 446 1363 439 1369.5 439C1376 439 1381 444.5 1381.5 455.5L1370 457.5Z" fill="#2d221f" stroke="#2a1f1c" stroke-width="0.8"/>
<path d="M1381 449C1381.5 443 1384 439.5 1387 439.2L1395.5 445.5L1396.3 452.8L1381.5 455.4Z" fill="#4a3f3c" stroke="#2a1f1c" stroke-width="0.8"/>
<path d="M1363 457.3Q1369.5 453.8 1377 456.2" stroke="#fff" stroke-width="0.8"/>
<path d="M1357.5 461.3L1398.3 453.3" stroke="#2a1f1c" stroke-width="1"/>
<path d="M1382.3 433.4L1395 429.4L1419.5 436.6L1420.4 448.6L1398.3 453.3L1396.9 444.4Z" fill="#fff" stroke="none"/>
<path d="M1382.3 433.4L1396.9 444.4L1419.5 436.6L1395 429.4M1396.9 444.4L1398.3 453.3M1419.8 436.9L1420.4 448.6L1437.5 436" stroke="#2a1f1c" stroke-width="1.1"/>
<path d="M1422.5 438L1423 445.5L1431 439.3" stroke="#2a1f1c" stroke-width="0.8"/>
<path d="M1400.8 415L1411.1 409.8L1436 408.6L1438.8 413.8L1440.3 434L1433 431.7L1432.5 425.4L1398.5 426L1399 420.2Z" fill="#fff" stroke="none"/>
<path d="M1400.8 415L1411.1 409.8L1436 408.6L1438.8 413.8L1440.3 434M1399 420.2L1437.7 420.8M1398.5 426L1432.5 425.4L1433 431.7" stroke="#2a1f1c" stroke-width="1.1"/>
<path d="M1401 427L1404.6 427L1405.6 432.2ZM1406.4 427.1L1410 427.1L1411 432.6ZM1411.8 427.3L1415.4 427.3L1416.4 432.9ZM1417.2 427.4L1420.8 427.4L1421.8 433.2ZM1422.6 427.6L1426.2 427.6L1427.2 433.6ZM1428 427.8L1431.6 427.8L1432.6 433.9Z" fill="#3a2e2b" stroke="#2a1f1c" stroke-width="0.6"/>
<path d="M1397.3 427.6L1432.8 433.8" stroke="#2a1f1c" stroke-width="1.2"/>
<path d="M1401.3 394.8L1410.6 396.5L1412.3 408L1411.1 409.8L1403 413Z" fill="#fff" stroke="none"/>
<path d="M1401.3 394.8L1410.6 396.5L1412.3 408.3M1408.3 397.2L1403 402.3M1408.3 397.2L1409 405M1404 405.5L1407 403.3L1407.3 408" stroke="#2a1f1c" stroke-width="1"/>
<path d="M1402 409L1409 411.5M1402 411.5L1406.5 413" stroke="#2a1f1c" stroke-width="1.4"/>
<path d="M1318.3 404.8L1334.5 398.6L1336 424L1328.3 420.8L1318.6 416Z" fill="#fff" stroke="none"/>
<path d="M1334.5 398.6L1318.3 404.8L1318.6 416M1320.8 405.4L1333.3 409.5M1319.5 415.8L1323.3 417.6L1324.5 412.6L1330.1 415.1L1328.3 420.8" stroke="#2a1f1c" stroke-width="1.1"/>
<path d="M1330.5 416.5L1334 415M1329.5 419.5L1334.5 417.5" stroke="#2a1f1c" stroke-width="1.4"/>
<path d="M1333.3 404.5L1335.1 424.5L1335.1 424.5C1335.7 425.1 1336.4 427.2 1338.9 428.3C1341.4 429.4 1346.2 430.5 1350 431.3C1353.8 432.1 1357.6 432.7 1362 433C1366.4 433.3 1371.9 433.7 1376.4 433.3C1380.9 432.9 1385.2 432.1 1388.9 430.8C1392.6 429.6 1396.7 426.6 1398.3 425.8L1402 400.8Z" fill="#fff" stroke="#2a1f1c" stroke-width="1.1"/>
<ellipse cx="1367.7" cy="402.6" rx="34.5" ry="13.6" transform="rotate(-3.2 1367.7 402.6)" fill="#fff" stroke="#2a1f1c" stroke-width="1.1"/>
<path d="M1338.9 428.3C1338.9 427.8 1338.4 426.4 1338.9 425.1C1339.4 423.9 1340.4 421.8 1342 420.8C1343.6 419.8 1345.7 419 1348.3 418.9C1350.9 418.8 1354.5 419.3 1357.6 420.1C1360.7 420.9 1364.4 422.4 1367 423.9C1369.6 425.4 1371.8 427.4 1373.3 428.9C1374.8 430.4 1375.4 432.2 1375.8 432.9M1338.9 428.3C1340.5 428.4 1344.7 428.5 1348.3 428.9C1351.9 429.3 1356.6 430.1 1360.8 430.8C1365 431.5 1371.2 432.9 1373.3 433.3" stroke="#2a1f1c" stroke-width="1" fill="none"/>
<ellipse cx="1353.3" cy="396.2" rx="6.9" ry="3.4" transform="rotate(-3 1353.3 396.2)" fill="#fff" stroke="#2a1f1c" stroke-width="1.2"/>
<ellipse cx="1353.3" cy="396.5" rx="4.6" ry="2.1" transform="rotate(-3 1353.3 396.5)" fill="none" stroke="#2a1f1c" stroke-width="0.9"/>
<path d="M1351.1 396.8L1355.7 396.5M1352.8 397.8L1355.3 397.6" stroke="#2a1f1c" stroke-width="0.9"/>
<ellipse cx="1391" cy="400.4" rx="6.9" ry="3.4" transform="rotate(-3 1391 400.4)" fill="#fff" stroke="#2a1f1c" stroke-width="1.2"/>
<ellipse cx="1391" cy="400.7" rx="4.6" ry="2.1" transform="rotate(-3 1391 400.7)" fill="none" stroke="#2a1f1c" stroke-width="0.9"/>
<path d="M1388.8 401L1393.4 400.7M1390.5 402L1393 401.8" stroke="#2a1f1c" stroke-width="0.9"/>
<ellipse cx="1358.6" cy="411.4" rx="6.9" ry="3.4" transform="rotate(-3 1358.6 411.4)" fill="#fff" stroke="#2a1f1c" stroke-width="1.2"/>
<ellipse cx="1358.6" cy="411.7" rx="4.6" ry="2.1" transform="rotate(-3 1358.6 411.7)" fill="none" stroke="#2a1f1c" stroke-width="0.9"/>
<path d="M1356.4 412L1361 411.7M1358.1 413L1360.6 412.8" stroke="#2a1f1c" stroke-width="0.9"/>
<path d="M1353.1 330L1357.4 403L1357.4 403C1357.9 403.5 1358.7 405.2 1360.5 405.8C1362.3 406.4 1365.5 406.9 1368 406.9C1370.5 406.9 1373.7 406.4 1375.5 405.8C1377.3 405.2 1378.1 403.5 1378.6 403L1374.4 330Z" fill="#fff" stroke="#2a1f1c" stroke-width="1.1"/>
<path d="M1353.6 333.2Q1364 338.8 1374.4 332.6M1353.7 335Q1364.1 340.6 1374.5 334.4M1353.8 336.8Q1364.2 342.4 1374.6 336.2M1353.9 338.6Q1364.3 344.2 1374.7 338M1354 340.4Q1364.4 346 1374.8 339.8M1354.1 342.2Q1364.5 347.8 1374.9 341.6M1354.2 344Q1364.6 349.6 1375 343.4M1354.3 345.8Q1364.7 351.4 1375.1 345.2M1354.4 347.6Q1364.8 353.2 1375.2 347M1354.6 349.4Q1365 355 1375.4 348.8M1354.7 351.2Q1365.1 356.8 1375.5 350.6M1354.8 353Q1365.2 358.6 1375.6 352.4M1354.9 354.8Q1365.3 360.4 1375.7 354.2M1355 356.6Q1365.4 362.2 1375.8 356M1355.1 358.4Q1365.5 364 1375.9 357.8M1355.2 360.2Q1365.6 365.8 1376 359.6M1355.3 362Q1365.7 367.6 1376.1 361.4M1355.4 363.8Q1365.8 369.4 1376.2 363.2M1355.5 365.6Q1365.9 371.2 1376.3 365M1355.6 367.4Q1366 373 1376.4 366.8M1355.7 369.2Q1366.1 374.8 1376.5 368.6M1355.9 371Q1366.3 376.6 1376.7 370.4M1356 372.8Q1366.4 378.4 1376.8 372.2M1356.1 374.6Q1366.5 380.2 1376.9 374M1356.2 376.4Q1366.6 382 1377 375.8M1356.3 378.2Q1366.7 383.8 1377.1 377.6M1356.4 380Q1366.8 385.6 1377.2 379.4M1356.5 381.8Q1366.9 387.4 1377.3 381.2M1356.6 383.6Q1367 389.2 1377.4 383" stroke="#2a1f1c" stroke-width="0.95"/>
<path d="M1372.5 333L1376.8 385.5" stroke="#2a1f1c" stroke-width="0.8"/>
<ellipse cx="1363.8" cy="329.4" rx="10.6" ry="3.9" fill="#fff" stroke="#2a1f1c" stroke-width="1.1"/>
</g>
<g id="p7_panel">
<rect x="1487.5" y="205.8" width="298.3" height="416.2" rx="31" ry="31" fill="none" stroke="#444" stroke-width="1.1"/>
</g>
<g id="p8_board1">
<path d="M1712.5 230.6L1780.6 278.7L1780.6 285L1637.5 386.3L1569.4 340L1569.4 333.1L1653.8 271.9Z" fill="#fff" stroke="none"/>
<path d="M1653.8 271.9L1712.5 230.6L1780.6 278.7L1780.6 285" stroke="#222" stroke-width="1"/>
<path d="M1780.6 278.7L1647.5 371.3" stroke="#222" stroke-width="1"/>
<path d="M1780.6 285L1650 377.6" stroke="#222" stroke-width="1"/>
<path d="M1712.2 232.9L1777.3 279" stroke="#222" stroke-width="0.7"/>
<path d="M1684.8 353.5l8.5 -6l0 2.6l-8.5 6Z" stroke="#222" stroke-width="0.7" fill="#fff"/>
<path d="M1694.8 346l8.5 -6l0 2.6l-8.5 6Z" stroke="#222" stroke-width="0.7" fill="#fff"/>
<path d="M1714.8 332l8.5 -6l0 2.6l-8.5 6Z" stroke="#222" stroke-width="0.7" fill="#fff"/>
<path d="M1732.3 319.5l8.5 -6l0 2.6l-8.5 6Z" stroke="#222" stroke-width="0.7" fill="#fff"/>
<path d="M1742.3 312.6l8.5 -6l0 2.6l-8.5 6Z" stroke="#222" stroke-width="0.7" fill="#fff"/>
<path d="M1713 234.5L1724.5 242.6L1714.5 249.6L1703 241.5Z" stroke="#222" stroke-width="0.8" fill="#fff"/><path d="M1703 242.7L1714.5 250.8L1724.5 243.8" stroke="#222" stroke-width="0.7"/>
<path d="M1764.5 270.9L1775.5 278.7L1765.5 285.7L1754.5 277.9Z" stroke="#222" stroke-width="0.8" fill="#fff"/><path d="M1754.5 279.1L1765.5 286.9L1775.5 279.9" stroke="#222" stroke-width="0.7"/>
<path d="M1699.6 245L1707.2 239.7L1721.4 249.7L1721.4 255.9L1713.8 261.3L1699.6 251.2Z" fill="#fff" stroke="none"/><path d="M1699.6 245L1707.2 239.7L1721.4 249.7L1713.8 255.1ZM1699.6 245L1699.6 251.2L1713.8 261.3L1713.8 255.1M1713.8 261.3L1721.4 255.9L1721.4 249.7" stroke="#222" stroke-width="1.05"/>
<path d="M1689.7 252L1697.2 246.7L1711.5 256.7L1711.5 262.9L1703.9 268.3L1689.7 258.2Z" fill="#fff" stroke="none"/><path d="M1689.7 252L1697.2 246.7L1711.5 256.7L1703.9 262.1ZM1689.7 252L1689.7 258.2L1703.9 268.3L1703.9 262.1M1703.9 268.3L1711.5 262.9L1711.5 256.7" stroke="#222" stroke-width="1.05"/>
<path d="M1679.7 259L1687.3 253.7L1701.5 263.7L1701.5 269.9L1693.9 275.3L1679.7 265.2Z" fill="#fff" stroke="none"/><path d="M1679.7 259L1687.3 253.7L1701.5 263.7L1693.9 269.1ZM1679.7 259L1679.7 265.2L1693.9 275.3L1693.9 269.1M1693.9 275.3L1701.5 269.9L1701.5 263.7" stroke="#222" stroke-width="1.05"/>
<path d="M1719.7 259.2L1727.3 253.9L1741.5 263.9L1741.5 270.1L1733.9 275.5L1719.7 265.4Z" fill="#fff" stroke="none"/><path d="M1719.7 259.2L1727.3 253.9L1741.5 263.9L1733.9 269.3ZM1719.7 259.2L1719.7 265.4L1733.9 275.5L1733.9 269.3M1733.9 275.5L1741.5 270.1L1741.5 263.9" stroke="#222" stroke-width="1.05"/>
<path d="M1669.8 266L1677.4 260.7L1691.6 270.7L1691.6 276.9L1684 282.3L1669.8 272.2Z" fill="#fff" stroke="none"/><path d="M1669.8 266L1677.4 260.7L1691.6 270.7L1684 276.1ZM1669.8 266L1669.8 272.2L1684 282.3L1684 276.1M1684 282.3L1691.6 276.9L1691.6 270.7" stroke="#222" stroke-width="1.05"/>
<path d="M1709.8 266.2L1717.3 260.9L1731.5 270.9L1731.5 277.1L1724 282.5L1709.8 272.4Z" fill="#fff" stroke="none"/><path d="M1709.8 266.2L1717.3 260.9L1731.5 270.9L1724 276.3ZM1709.8 266.2L1709.8 272.4L1724 282.5L1724 276.3M1724 282.5L1731.5 277.1L1731.5 270.9" stroke="#222" stroke-width="1.05"/>
<path d="M1659.8 273L1667.4 267.7L1681.6 277.7L1681.6 283.9L1674 289.2L1659.8 279.2Z" fill="#fff" stroke="none"/><path d="M1659.8 273L1667.4 267.7L1681.6 277.7L1674 283ZM1659.8 273L1659.8 279.2L1674 289.2L1674 283M1674 289.2L1681.6 283.9L1681.6 277.7" stroke="#222" stroke-width="1.05"/>
<path d="M1699.8 273.2L1707.4 267.9L1721.6 277.9L1721.6 284.1L1714 289.5L1699.8 279.4Z" fill="#fff" stroke="none"/><path d="M1699.8 273.2L1707.4 267.9L1721.6 277.9L1714 283.3ZM1699.8 273.2L1699.8 279.4L1714 289.5L1714 283.3M1714 289.5L1721.6 284.1L1721.6 277.9" stroke="#222" stroke-width="1.05"/>
<path d="M1739.8 273.5L1747.4 268.1L1761.6 278.1L1761.6 284.3L1754 289.7L1739.8 279.7Z" fill="#fff" stroke="none"/><path d="M1739.8 273.5L1747.4 268.1L1761.6 278.1L1754 283.5ZM1739.8 273.5L1739.8 279.7L1754 289.7L1754 283.5M1754 289.7L1761.6 284.3L1761.6 278.1" stroke="#222" stroke-width="1.05"/>
<path d="M1689.8 280.2L1697.5 274.9L1711.7 284.9L1711.7 291.1L1704 296.5L1689.8 286.4Z" fill="#fff" stroke="none"/><path d="M1689.8 280.2L1697.5 274.9L1711.7 284.9L1704 290.3ZM1689.8 280.2L1689.8 286.4L1704 296.5L1704 290.3M1704 296.5L1711.7 291.1L1711.7 284.9" stroke="#222" stroke-width="1.05"/>
<path d="M1729.9 280.4L1737.5 275.1L1751.6 285.1L1751.6 291.3L1744 296.7L1729.9 286.6Z" fill="#fff" stroke="none"/><path d="M1729.9 280.4L1737.5 275.1L1751.6 285.1L1744 290.5ZM1729.9 280.4L1729.9 286.6L1744 296.7L1744 290.5M1744 296.7L1751.6 291.3L1751.6 285.1" stroke="#222" stroke-width="1.05"/>
<path d="M1679.9 287.2L1687.5 281.9L1701.7 291.9L1701.7 298.1L1694.1 303.5L1679.9 293.4Z" fill="#fff" stroke="none"/><path d="M1679.9 287.2L1687.5 281.9L1701.7 291.9L1694.1 297.3ZM1679.9 287.2L1679.9 293.4L1694.1 303.5L1694.1 297.3M1694.1 303.5L1701.7 298.1L1701.7 291.9" stroke="#222" stroke-width="1.05"/>
<path d="M1719.9 287.4L1727.5 282.1L1741.7 292.1L1741.7 298.3L1734.1 303.7L1719.9 293.6Z" fill="#fff" stroke="none"/><path d="M1719.9 287.4L1727.5 282.1L1741.7 292.1L1734.1 297.5ZM1719.9 287.4L1719.9 293.6L1734.1 303.7L1734.1 297.5M1734.1 303.7L1741.7 298.3L1741.7 292.1" stroke="#222" stroke-width="1.05"/>
<path d="M1710 294.4L1717.6 289.1L1731.8 299.1L1731.8 305.3L1724.1 310.7L1710 300.6Z" fill="#fff" stroke="none"/><path d="M1710 294.4L1717.6 289.1L1731.8 299.1L1724.1 304.5ZM1710 294.4L1710 300.6L1724.1 310.7L1724.1 304.5M1724.1 310.7L1731.8 305.3L1731.8 299.1" stroke="#222" stroke-width="1.05"/>
<path d="M1700 301.4L1707.6 296.1L1721.8 306.1L1721.8 312.3L1714.2 317.7L1700 307.6Z" fill="#fff" stroke="none"/><path d="M1700 301.4L1707.6 296.1L1721.8 306.1L1714.2 311.5ZM1700 301.4L1700 307.6L1714.2 317.7L1714.2 311.5M1714.2 317.7L1721.8 312.3L1721.8 306.1" stroke="#222" stroke-width="1.05"/>
<path d="M1592.9 319.8Q1588.8 316.9 1592.9 314.1L1646.4 278.1Q1650.5 275.3 1654.5 278.3L1704.1 316.4Q1708.1 319.4 1703.9 322.2L1653 356.4Q1648.8 359.2 1644.7 356.3Z" fill="#fff" stroke="#222" stroke-width="1"/>
<path d="M1592.9 316.2Q1588.8 313.3 1592.9 310.5L1646.4 274.5Q1650.5 271.7 1654.5 274.7L1704.1 312.8Q1708.1 315.8 1703.9 318.6L1653 352.8Q1648.8 355.6 1644.7 352.7Z" fill="#fff" stroke="#222" stroke-width="1"/>
<path d="M1589.8 318.1L1589.8 322.7L1603.7 332.5L1603.7 327.9Z" stroke="#222" stroke-width="0.9" fill="#fff"/>
<path d="M1603.7 332.5L1607.3 330.1L1607.3 325.9" stroke="#222" stroke-width="0.9"/>
<path d="M1589.8 318.9L1603.7 328.7" stroke="#222" stroke-width="1.4"/>
<path d="M1610.7 332.8L1610.7 337.4L1625.2 347.6L1625.2 343Z" stroke="#222" stroke-width="0.9" fill="#fff"/>
<path d="M1625.2 347.6L1628.8 345.2L1628.8 341" stroke="#222" stroke-width="0.9"/>
<path d="M1610.7 333.6L1625.2 343.8" stroke="#222" stroke-width="1.4"/>
<path d="M1632.1 348L1632.1 352.6L1647.2 363.2L1647.2 358.6Z" stroke="#222" stroke-width="0.9" fill="#fff"/>
<path d="M1647.2 363.2L1650.8 360.8L1650.8 356.6" stroke="#222" stroke-width="0.9"/>
<path d="M1632.1 348.8L1647.2 359.4" stroke="#222" stroke-width="1.4"/>
<path d="M1660 354.5L1674.5 345.5" stroke="#222" stroke-width="2" stroke-dasharray="2.2 1.2"/>
<path d="M1585 350L1596.3 342.5L1600.3 345.3L1595.6 348.8M1611.3 368.5L1621.9 361L1626 364L1620.6 367.6" stroke="#222" stroke-width="0.9"/>
<path d="M1569.4 333.1L1581.3 325L1595.6 335L1595.6 342L1585 349.5L1569.4 340.1Z" fill="#fff" stroke="none"/><path d="M1569.4 333.1L1581.3 325L1595.6 335L1585 342.5ZM1569.4 333.1L1569.4 340.1L1585 349.5L1585 342.5M1585 349.5L1595.6 342L1595.6 335" stroke="#222" stroke-width="1"/>
<path d="M1569.4 333.1L1585 342.5L1595.6 335" stroke="#222" stroke-width="1.6"/>
<path d="M1595.6 351.9L1606.3 343.8L1621.9 353.8L1621.9 360.8L1611.3 368.3L1595.6 358.9Z" fill="#fff" stroke="none"/><path d="M1595.6 351.9L1606.3 343.8L1621.9 353.8L1611.3 361.3ZM1595.6 351.9L1595.6 358.9L1611.3 368.3L1611.3 361.3M1611.3 368.3L1621.9 360.8L1621.9 353.8" stroke="#222" stroke-width="1"/>
<path d="M1595.6 351.9L1611.3 361.3L1621.9 353.8" stroke="#222" stroke-width="1.6"/>
<path d="M1620.6 370L1631.3 362.5L1647.5 371.3L1647.5 378.3L1636.9 386.4L1620.6 377Z" fill="#fff" stroke="none"/><path d="M1620.6 370L1631.3 362.5L1647.5 371.3L1636.9 379.4ZM1620.6 370L1620.6 377L1636.9 386.4L1636.9 379.4M1636.9 386.4L1647.5 378.3L1647.5 371.3" stroke="#222" stroke-width="1"/>
<path d="M1620.6 370L1636.9 379.4L1647.5 371.3" stroke="#222" stroke-width="1.6"/>
<path d="M1636.9 386.4L1647.5 378.8M1581.3 325L1589.3 319.4M1606.3 343.8L1611 340.5M1631.3 362.5L1634 360.6" stroke="#222" stroke-width="1"/>
</g>
<g id="p9_board2">
<path d="M1717.2 472L1771.7 510.4L1771.7 516.7L1654.8 599.7L1592.3 570.6L1592.3 563.8L1600.3 555Z" fill="#fff" stroke="none"/>
<path d="M1600.3 555L1717.2 472L1771.7 510.4L1771.7 516.7L1654.2 601" stroke="#222" stroke-width="1"/>
<path d="M1771.7 510.4L1652.5 594.2" stroke="#222" stroke-width="1"/>
<path d="M1652.5 594.2L1654.2 601M1650.8 592.4L1652.5 594.2" stroke="#222" stroke-width="1"/>
<path d="M1686 582L1704 569" stroke="#222" stroke-width="1"/>
<path d="M1718.2 475.5L1730.7 484.3L1720.2 491.8L1707.7 483Z" stroke="#222" stroke-width="0.8" fill="#fff"/><path d="M1707.7 484.2L1720.2 493L1730.7 485.5" stroke="#222" stroke-width="0.7"/>
<path d="M1753.7 501.3L1766.7 510.4L1756.7 517.5L1743.7 508.4Z" stroke="#222" stroke-width="0.8" fill="#fff"/><path d="M1743.7 509.6L1756.7 518.7L1766.7 511.6" stroke="#222" stroke-width="0.7"/>
<path d="M1698.5 481.8L1706.1 476.4L1720.5 486.6L1720.5 494L1712.9 499.3L1698.5 489.2Z" fill="#fff" stroke="none"/><path d="M1698.5 481.8L1706.1 476.4L1720.5 486.6L1712.9 491.9ZM1698.5 481.8L1698.5 489.2L1712.9 499.3L1712.9 491.9M1712.9 499.3L1720.5 494L1720.5 486.6" stroke="#222" stroke-width="1.05"/>
<path d="M1688.6 488.9L1696.2 483.5L1710.5 493.6L1710.5 501L1702.9 506.4L1688.6 496.3Z" fill="#fff" stroke="none"/><path d="M1688.6 488.9L1696.2 483.5L1710.5 493.6L1702.9 499ZM1688.6 488.9L1688.6 496.3L1702.9 506.4L1702.9 499M1702.9 506.4L1710.5 501L1710.5 493.6" stroke="#222" stroke-width="1.05"/>
<path d="M1725.2 499.6Q1723.4 498.3 1725.2 497L1731.5 492.5Q1733.3 491.2 1735.1 492.5L1744.3 499Q1746.1 500.3 1744.3 501.5L1737.9 506Q1736.2 507.3 1734.4 506Z" fill="#fff" stroke="#222" stroke-width="1.1"/><path d="M1726.9 501.5l0 0.9M1729.2 503.1l0 0.9M1731.5 504.7l0 0.9M1733.8 506.3l0 0.9" stroke="#222" stroke-width="1.3"/><path d="M1725.2 497Q1723.4 495.7 1725.2 494.4L1731.5 489.9Q1733.3 488.6 1735.1 489.9L1744.3 496.4Q1746.1 497.7 1744.3 498.9L1737.9 503.4Q1736.2 504.7 1734.4 503.4Z" fill="#fff" stroke="#222" stroke-width="1.1"/>
<path d="M1678.6 495.9L1686.2 490.6L1700.6 500.7L1700.6 508.1L1693 513.5L1678.6 503.3Z" fill="#fff" stroke="none"/><path d="M1678.6 495.9L1686.2 490.6L1700.6 500.7L1693 506.1ZM1678.6 495.9L1678.6 503.3L1693 513.5L1693 506.1M1693 513.5L1700.6 508.1L1700.6 500.7" stroke="#222" stroke-width="1.05"/>
<path d="M1708.2 502.8L1716.1 497.2L1726.8 504.8L1726.8 510L1719 515.6L1708.2 508Z" fill="#fff" stroke="none"/><path d="M1708.2 502.8L1716.1 497.2L1726.8 504.8L1719 510.4ZM1708.2 502.8L1708.2 508L1719 515.6L1719 510.4M1719 515.6L1726.8 510L1726.8 504.8" stroke="#222" stroke-width="1.05"/>
<path d="M1742.6 512.4L1747 509.3L1753.2 513.6L1753.2 516.2L1748.8 519.3L1742.6 515Z" fill="#fff" stroke="none"/><path d="M1742.6 512.4L1747 509.3L1753.2 513.6L1748.8 516.7ZM1742.6 512.4L1742.6 515L1748.8 519.3L1748.8 516.7M1748.8 519.3L1753.2 516.2L1753.2 513.6" stroke="#222" stroke-width="1.05"/>
<path d="M1668.7 503L1676.2 497.6L1690.6 507.8L1690.6 515.2L1683 520.5L1668.7 510.4Z" fill="#fff" stroke="none"/><path d="M1668.7 503L1676.2 497.6L1690.6 507.8L1683 513.1ZM1668.7 503L1668.7 510.4L1683 520.5L1683 513.1M1683 520.5L1690.6 515.2L1690.6 507.8" stroke="#222" stroke-width="1.05"/>
<path d="M1658.7 510.1L1666.3 504.7L1680.7 514.8L1680.7 522.2L1673.1 527.6L1658.7 517.5Z" fill="#fff" stroke="none"/><path d="M1658.7 510.1L1666.3 504.7L1680.7 514.8L1673.1 520.2ZM1658.7 510.1L1658.7 517.5L1673.1 527.6L1673.1 520.2M1673.1 527.6L1680.7 522.2L1680.7 514.8" stroke="#222" stroke-width="1.05"/>
<path d="M1726.1 514.5L1732.7 509.8L1743.9 517.7L1743.9 522.9L1737.3 527.6L1726.1 519.7Z" fill="#fff" stroke="none"/><path d="M1726.1 514.5L1732.7 509.8L1743.9 517.7L1737.3 522.4ZM1726.1 514.5L1726.1 519.7L1737.3 527.6L1737.3 522.4M1737.3 527.6L1743.9 522.9L1743.9 517.7" stroke="#222" stroke-width="1.05"/>
<path d="M1649.8 521.3L1657.3 516L1670.2 525.1L1670.2 528.3L1662.7 533.6L1649.8 524.5Z" fill="#fff" stroke="none"/><path d="M1649.8 521.3L1657.3 516L1670.2 525.1L1662.7 530.4ZM1649.8 521.3L1649.8 524.5L1662.7 533.6L1662.7 530.4M1662.7 533.6L1670.2 528.3L1670.2 525.1" stroke="#222" stroke-width="1.05"/>
<path d="M1713.6 525.8L1722.4 519.6L1734.7 528.2L1734.7 531.8L1725.8 538.1L1713.6 529.4Z" fill="#fff" stroke="none"/><path d="M1713.6 525.8L1722.4 519.6L1734.7 528.2L1725.8 534.5ZM1713.6 525.8L1713.6 529.4L1725.8 538.1L1725.8 534.5M1725.8 538.1L1734.7 531.8L1734.7 528.2" stroke="#222" stroke-width="1.05"/>
<path d="M1637.1 536.1Q1635.3 534.8 1637.1 533.5L1645 527.9Q1646.8 526.7 1648.6 527.9L1659.9 535.9Q1661.7 537.1 1659.9 538.4L1652 544Q1650.2 545.3 1648.4 544Z" fill="#fff" stroke="#222" stroke-width="1.1"/><path d="M1639.5 538.5l0 0.9M1642.1 540.3l0 0.9M1644.8 542.2l0 0.9M1647.5 544.1l0 0.9" stroke="#222" stroke-width="1.3"/><path d="M1637.1 533.7Q1635.3 532.4 1637.1 531.1L1645 525.5Q1646.8 524.3 1648.6 525.5L1659.9 533.5Q1661.7 534.7 1659.9 536L1652 541.6Q1650.2 542.9 1648.4 541.6Z" fill="#fff" stroke="#222" stroke-width="1.1"/>
<path d="M1630.6 540.4Q1628.8 539.1 1630.6 537.9L1639.7 531.4Q1641.5 530.1 1643.3 531.4L1653.1 538.3Q1654.9 539.6 1653.1 540.8L1644 547.3Q1642.2 548.6 1640.4 547.3Z" fill="#fff" stroke="#222" stroke-width="1.1"/><path d="M1632.5 542.5l0 0.9M1634.9 544.2l0 0.9M1637.3 545.9l0 0.9M1639.8 547.6l0 0.9" stroke="#222" stroke-width="1.3"/><path d="M1630.6 537.8Q1628.8 536.5 1630.6 535.3L1639.7 528.8Q1641.5 527.5 1643.3 528.8L1653.1 535.7Q1654.9 537 1653.1 538.2L1644 544.7Q1642.2 546 1640.4 544.7Z" fill="#fff" stroke="#222" stroke-width="1.1"/>
<path d="M1705.4 542.5L1709.2 539.7L1715.9 544.5L1715.9 546.7L1712.1 549.4L1705.4 544.7Z" fill="#fff" stroke="none"/><path d="M1705.4 542.5L1709.2 539.7L1715.9 544.5L1712.1 547.2ZM1705.4 542.5L1705.4 544.7L1712.1 549.4L1712.1 547.2M1712.1 549.4L1715.9 546.7L1715.9 544.5" stroke="#222" stroke-width="1.05"/>
<path d="M1689.8 542.5L1696 538L1709.2 547.3L1709.2 550.3L1702.9 554.8L1689.8 545.5Z" fill="#fff" stroke="none"/><path d="M1689.8 542.5L1696 538L1709.2 547.3L1702.9 551.8ZM1689.8 542.5L1689.8 545.5L1702.9 554.8L1702.9 551.8M1702.9 554.8L1709.2 550.3L1709.2 547.3" stroke="#222" stroke-width="1.05"/>
<path d="M1647.7 552.2Q1645.9 550.9 1647.7 549.7L1658.7 541.9Q1660.5 540.6 1662.3 541.9L1673.3 549.6Q1675.1 550.9 1673.3 552.1L1662.3 559.9Q1660.5 561.2 1658.7 559.9Z" fill="#fff" stroke="#222" stroke-width="1.1"/><path d="M1650 554.5l0 0.9M1652.6 556.4l0 0.9M1655.3 558.2l0 0.9M1657.9 560.1l0 0.9" stroke="#222" stroke-width="1.3"/><path d="M1647.7 549.6Q1645.9 548.3 1647.7 547.1L1658.7 539.3Q1660.5 538 1662.3 539.3L1673.3 547Q1675.1 548.3 1673.3 549.5L1662.3 557.3Q1660.5 558.6 1658.7 557.3Z" fill="#fff" stroke="#222" stroke-width="1.1"/>
<path d="M1610.3 553Q1608.5 551.8 1610.3 550.5L1619.2 544.2Q1621 542.9 1622.8 544.2L1633.4 551.7Q1635.2 552.9 1633.4 554.2L1624.5 560.5Q1622.7 561.8 1620.9 560.5Z" fill="#fff" stroke="#222" stroke-width="1.1"/><path d="M1612.5 555.3l0 0.9M1615 557.1l0 0.9M1617.6 558.9l0 0.9M1620.1 560.7l0 0.9" stroke="#222" stroke-width="1.3"/><path d="M1610.3 550.4Q1608.5 549.2 1610.3 547.9L1619.2 541.6Q1621 540.3 1622.8 541.6L1633.4 549.1Q1635.2 550.3 1633.4 551.6L1624.5 557.9Q1622.7 559.2 1620.9 557.9Z" fill="#fff" stroke="#222" stroke-width="1.1"/>
<path d="M1665.5 565Q1663.7 563.7 1665.5 562.4L1675.9 555.1Q1677.7 553.8 1679.5 555.1L1691.1 563.2Q1692.9 564.5 1691.1 565.8L1680.7 573.1Q1678.9 574.4 1677.1 573.1Z" fill="#fff" stroke="#222" stroke-width="1.1"/><path d="M1668 567.4l0 0.9M1670.7 569.3l0 0.9M1673.4 571.3l0 0.9M1676.2 573.2l0 0.9" stroke="#222" stroke-width="1.3"/><path d="M1665.5 562.4Q1663.7 561.1 1665.5 559.8L1675.9 552.5Q1677.7 551.2 1679.5 552.5L1691.1 560.6Q1692.9 561.9 1691.1 563.2L1680.7 570.5Q1678.9 571.8 1677.1 570.5Z" fill="#fff" stroke="#222" stroke-width="1.1"/>
<path d="M1627.2 565.7Q1625.4 564.4 1627.2 563.1L1637 556.2Q1638.8 554.9 1640.6 556.2L1652.1 564.2Q1653.9 565.5 1652.1 566.8L1642.3 573.7Q1640.5 575 1638.7 573.7Z" fill="#fff" stroke="#222" stroke-width="1.1"/><path d="M1629.7 568.1l0 0.9M1632.4 570l0 0.9M1635.1 571.9l0 0.9M1637.8 573.8l0 0.9" stroke="#222" stroke-width="1.3"/><path d="M1627.2 563.1Q1625.4 561.8 1627.2 560.5L1637 553.6Q1638.8 552.3 1640.6 553.6L1652.1 561.6Q1653.9 562.9 1652.1 564.2L1642.3 571.1Q1640.5 572.4 1638.7 571.1Z" fill="#fff" stroke="#222" stroke-width="1.1"/>
<path d="M1645.1 578.6Q1643.3 577.3 1645.1 576L1655.3 568.8Q1657.1 567.5 1658.9 568.8L1670.8 577.1Q1672.6 578.4 1670.8 579.7L1660.6 586.9Q1658.8 588.2 1657 586.9Z" fill="#fff" stroke="#222" stroke-width="1.1"/><path d="M1647.7 581.1l0 0.9M1650.4 583l0 0.9M1653.2 585l0 0.9M1656 587l0 0.9" stroke="#222" stroke-width="1.3"/><path d="M1645.1 576Q1643.3 574.7 1645.1 573.4L1655.3 566.2Q1657.1 564.9 1658.9 566.2L1670.8 574.5Q1672.6 575.8 1670.8 577.1L1660.6 584.3Q1658.8 585.6 1657 584.3Z" fill="#fff" stroke="#222" stroke-width="1.1"/>
<ellipse cx="1695.5" cy="519.5" rx="2.5" ry="3.4" transform="rotate(-52 1695.5 519.5)" fill="#fff" stroke="#222" stroke-width="1.1"/><ellipse cx="1699.4" cy="522.2" rx="2.5" ry="3.4" transform="rotate(-52 1699.4 522.2)" fill="#fff" stroke="#222" stroke-width="1.1"/><ellipse cx="1703.3" cy="525" rx="2.5" ry="3.4" transform="rotate(-52 1703.3 525)" fill="#fff" stroke="#222" stroke-width="1.1"/><ellipse cx="1707.2" cy="527.8" rx="2.5" ry="3.4" transform="rotate(-52 1707.2 527.8)" fill="#fff" stroke="#222" stroke-width="1.1"/>
<ellipse cx="1670" cy="537.5" rx="2.5" ry="3.4" transform="rotate(-52 1670 537.5)" fill="#fff" stroke="#222" stroke-width="1.1"/><ellipse cx="1673.9" cy="540.2" rx="2.5" ry="3.4" transform="rotate(-52 1673.9 540.2)" fill="#fff" stroke="#222" stroke-width="1.1"/><ellipse cx="1677.8" cy="543" rx="2.5" ry="3.4" transform="rotate(-52 1677.8 543)" fill="#fff" stroke="#222" stroke-width="1.1"/><ellipse cx="1681.7" cy="545.8" rx="2.5" ry="3.4" transform="rotate(-52 1681.7 545.8)" fill="#fff" stroke="#222" stroke-width="1.1"/>
<rect x="1683.5" y="525.5" width="8.5" height="3.6" rx="1.6" transform="rotate(35 1687.5 527.5)" fill="#fff" stroke="#222" stroke-width="0.9"/>
<rect x="1694.5" y="533" width="8.5" height="3.6" rx="1.6" transform="rotate(35 1698.5 535)" fill="#fff" stroke="#222" stroke-width="0.9"/>
<rect x="1714" y="531.5" width="8.5" height="3.6" rx="1.6" transform="rotate(35 1718 533.5)" fill="#fff" stroke="#222" stroke-width="0.9"/>
<path d="M1600.9 558.1L1603.5 556.3M1613.5 566.7L1613.5 573.5L1619.8 571.8M1617 568.9L1617 572.6M1631.9 579.8L1631.9 586.5L1638.8 585M1635.5 582.3L1635.5 585.8" stroke="#222" stroke-width="0.9"/>
<path d="M1592.3 563.8L1600.9 558.1L1613.5 566.7L1613.5 573.7L1604.9 579.4L1592.3 570.8Z" fill="#fff" stroke="none"/><path d="M1592.3 563.8L1600.9 558.1L1613.5 566.7L1604.9 572.4ZM1592.3 563.8L1592.3 570.8L1604.9 579.4L1604.9 572.4M1604.9 579.4L1613.5 573.7L1613.5 566.7" stroke="#222" stroke-width="1"/>
<path d="M1592.3 563.8L1604.9 572.4L1613.5 566.7" stroke="#222" stroke-width="1.6"/>
<path d="M1611.3 578.1L1619.8 571.8L1631.9 579.8L1631.9 586.8L1623.3 592L1611.3 585.1Z" fill="#fff" stroke="none"/><path d="M1611.3 578.1L1619.8 571.8L1631.9 579.8L1623.3 585ZM1611.3 578.1L1611.3 585.1L1623.3 592L1623.3 585M1623.3 592L1631.9 586.8L1631.9 579.8" stroke="#222" stroke-width="1"/>
<path d="M1611.3 578.1L1623.3 585L1631.9 579.8" stroke="#222" stroke-width="1.6"/>
<path d="M1629.6 591.9L1638.8 585L1650.8 592.4L1650.8 599.4L1642.2 605.2L1629.6 598.9Z" fill="#fff" stroke="none"/><path d="M1629.6 591.9L1638.8 585L1650.8 592.4L1642.2 598.2ZM1629.6 591.9L1629.6 598.9L1642.2 605.2L1642.2 598.2M1642.2 605.2L1650.8 599.4L1650.8 592.4" stroke="#222" stroke-width="1"/>
<path d="M1629.6 591.9L1642.2 598.2L1650.8 592.4" stroke="#222" stroke-width="1.6"/>
</g>
<!--/ART-->
</svg>
<h1 id="title">Wiring diagram</h1>
<div class="t lbl" id="note1" style="left:161.5px;top:204.5px;letter-spacing:0.44px;">*Please ensure all solder joints are insulated with heat shrink where necessary.</div>
<div class="t lbl" id="bec" style="left:318.5px;top:386.9px;letter-spacing:2.15px;">BEC</div>
<div class="t lbl" id="rcv" style="left:500px;top:424.1px;letter-spacing:1.0px;">Receiver</div>
<div class="t lbl" id="bat" style="left:164px;top:563.2px;letter-spacing:1.12px;">Battery</div>
<div class="t lbl" id="esc" style="left:861px;top:574.2px;letter-spacing:2.3px;">ESC</div>
<div class="t lbl" id="mot" style="left:1348px;top:531.4px;letter-spacing:1.27px;">Motor</div>
<div class="t lbl" id="note2" style="left:1116px;top:612px;letter-spacing:0.67px;">*All pictures are for reference only</div>
<div class="t big" id="b1" style="left:1504px;top:222.8px;">50A•45A</div>
<div class="t big" id="b2" style="left:1504px;top:464.3px;">35A•20A</div>
</body>
</html>
